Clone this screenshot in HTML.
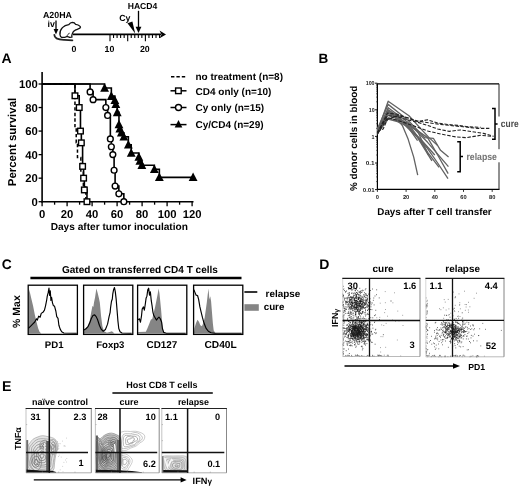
<!DOCTYPE html>
<html><head><meta charset="utf-8"><title>Figure</title>
<style>
html,body{margin:0;padding:0;background:#fff;}
body{width:520px;height:488px;overflow:hidden;}
svg{display:block;font-family:"Liberation Sans",sans-serif;will-change:transform;transform:translateZ(0);text-rendering:geometricPrecision;}
</style></head><body>
<svg width="520" height="488" viewBox="0 0 520 488">
<rect width="520" height="488" fill="#fff"/>
<text x="43" y="17.8" font-size="8.8" text-anchor="start" fill="#000" font-weight="bold" >A20HA</text>
<text x="47.6" y="26.6" font-size="8.8" text-anchor="start" fill="#000" font-weight="bold" >iv</text>
<line x1="56" y1="20.5" x2="56" y2="31" stroke="#000" stroke-width="1.3" />
<polygon points="53.6,29 58.4,29 56,34.5" fill="#000"/>
<path d="M54.3,34.8 C54.4,38.4 58.8,39.9 64.6,39.8 L72.4,40.3" fill="none" stroke="#222" stroke-width="1.8" stroke-linecap="round"/>
<path d="M60,34.8 C59.6,32.5 60.8,29.4 62.4,27.6 C64.2,25.8 66.6,24.9 68.8,24.6 C69.6,23.4 71,22.4 72.4,22.3 C73.8,22.3 75,23.2 75.5,24.3 C76.6,24.4 78,24.8 79,25.5 C79.8,26 80.6,26.6 80.5,27.2 C80.4,28 79.2,28.7 77.7,29.2 C76.6,29.6 75.8,29.8 75.3,30.1 C74.4,30.6 73.6,31.3 73.2,31.9 C72.6,32.8 72.2,34 71.8,35.4 L71.9,37.2 L69.6,37.4 C68.8,36.9 67.8,36.6 66.8,36.7 C65.8,36.8 65,37.3 64.2,37.4 L61.6,37.3 C60.6,36.9 60.1,36 60,34.8 Z" fill="#fff" stroke="#111" stroke-width="1.3" stroke-linejoin="round"/>
<path d="M66.8,36.7 C67.2,35 68.4,33.6 69.6,33.2" fill="none" stroke="#111" stroke-width="1"/>
<line x1="73" y1="34.4" x2="161" y2="34.4" stroke="#000" stroke-width="1.7" />
<polygon points="159.5,30.6 166,34.4 159.5,38.2 161.5,34.4" fill="#000"/>
<line x1="110.0" y1="34.4" x2="110.0" y2="41.2" stroke="#000" stroke-width="1.1" />
<line x1="113.54" y1="34.4" x2="113.54" y2="38" stroke="#000" stroke-width="1.1" />
<line x1="117.08" y1="34.4" x2="117.08" y2="38" stroke="#000" stroke-width="1.1" />
<line x1="120.62" y1="34.4" x2="120.62" y2="38" stroke="#000" stroke-width="1.1" />
<line x1="124.16" y1="34.4" x2="124.16" y2="38" stroke="#000" stroke-width="1.1" />
<line x1="127.7" y1="34.4" x2="127.7" y2="41.2" stroke="#000" stroke-width="1.1" />
<line x1="131.24" y1="34.4" x2="131.24" y2="38" stroke="#000" stroke-width="1.1" />
<line x1="134.78" y1="34.4" x2="134.78" y2="38" stroke="#000" stroke-width="1.1" />
<line x1="138.32" y1="34.4" x2="138.32" y2="38" stroke="#000" stroke-width="1.1" />
<line x1="141.86" y1="34.4" x2="141.86" y2="38" stroke="#000" stroke-width="1.1" />
<line x1="145.4" y1="34.4" x2="145.4" y2="41.2" stroke="#000" stroke-width="1.1" />
<line x1="148.94" y1="34.4" x2="148.94" y2="38" stroke="#000" stroke-width="1.1" />
<line x1="152.48" y1="34.4" x2="152.48" y2="38" stroke="#000" stroke-width="1.1" />
<line x1="156.02" y1="34.4" x2="156.02" y2="38" stroke="#000" stroke-width="1.1" />
<line x1="159.56" y1="34.4" x2="159.56" y2="38" stroke="#000" stroke-width="1.1" />
<text x="74.0" y="52" font-size="8.8" text-anchor="middle" fill="#000" font-weight="bold" >0</text>
<text x="109.4" y="52" font-size="8.8" text-anchor="middle" fill="#000" font-weight="bold" >10</text>
<text x="144.8" y="52" font-size="8.8" text-anchor="middle" fill="#000" font-weight="bold" >20</text>
<text x="127.7" y="8.6" font-size="8.6" text-anchor="start" fill="#000" font-weight="bold" >HACD4</text>
<line x1="138.5" y1="10.8" x2="138.5" y2="29" stroke="#000" stroke-width="1.3" />
<polygon points="135.6,26.8 141.4,26.8 138.5,33" fill="#000"/>
<text x="119.2" y="20.8" font-size="8.8" text-anchor="start" fill="#000" font-weight="bold" >Cy</text>
<polygon points="127.5,23.2 132.4,21.4 135.2,33.4" fill="#000"/>
<text x="1.5" y="63.1" font-size="14" text-anchor="start" fill="#000" font-weight="bold" >A</text>
<line x1="42.1" y1="72" x2="42.1" y2="202.5" stroke="#000" stroke-width="1.6" />
<line x1="41.300000000000004" y1="201.7" x2="193.5" y2="201.7" stroke="#000" stroke-width="1.6" />
<line x1="38.6" y1="201.7" x2="42.1" y2="201.7" stroke="#000" stroke-width="1.3" />
<text x="37.8" y="205.7" font-size="11.3" text-anchor="end" fill="#000" font-weight="bold" >0</text>
<line x1="38.6" y1="178.16" x2="42.1" y2="178.16" stroke="#000" stroke-width="1.3" />
<text x="37.8" y="182.16" font-size="11.3" text-anchor="end" fill="#000" font-weight="bold" >20</text>
<line x1="38.6" y1="154.62" x2="42.1" y2="154.62" stroke="#000" stroke-width="1.3" />
<text x="37.8" y="158.62" font-size="11.3" text-anchor="end" fill="#000" font-weight="bold" >40</text>
<line x1="38.6" y1="131.08" x2="42.1" y2="131.08" stroke="#000" stroke-width="1.3" />
<text x="37.8" y="135.08" font-size="11.3" text-anchor="end" fill="#000" font-weight="bold" >60</text>
<line x1="38.6" y1="107.54" x2="42.1" y2="107.54" stroke="#000" stroke-width="1.3" />
<text x="37.8" y="111.54" font-size="11.3" text-anchor="end" fill="#000" font-weight="bold" >80</text>
<line x1="38.6" y1="84.0" x2="42.1" y2="84.0" stroke="#000" stroke-width="1.3" />
<text x="37.8" y="88.0" font-size="11.3" text-anchor="end" fill="#000" font-weight="bold" >100</text>
<line x1="42.1" y1="201.7" x2="42.1" y2="206.2" stroke="#000" stroke-width="1.3" />
<text x="42.1" y="218.2" font-size="11.3" text-anchor="middle" fill="#000" font-weight="bold" >0</text>
<line x1="54.6" y1="201.7" x2="54.6" y2="204.7" stroke="#000" stroke-width="1.3" />
<line x1="67.1" y1="201.7" x2="67.1" y2="206.2" stroke="#000" stroke-width="1.3" />
<text x="67.1" y="218.2" font-size="11.3" text-anchor="middle" fill="#000" font-weight="bold" >20</text>
<line x1="79.6" y1="201.7" x2="79.6" y2="204.7" stroke="#000" stroke-width="1.3" />
<line x1="92.1" y1="201.7" x2="92.1" y2="206.2" stroke="#000" stroke-width="1.3" />
<text x="92.1" y="218.2" font-size="11.3" text-anchor="middle" fill="#000" font-weight="bold" >40</text>
<line x1="104.6" y1="201.7" x2="104.6" y2="204.7" stroke="#000" stroke-width="1.3" />
<line x1="117.1" y1="201.7" x2="117.1" y2="206.2" stroke="#000" stroke-width="1.3" />
<text x="117.1" y="218.2" font-size="11.3" text-anchor="middle" fill="#000" font-weight="bold" >60</text>
<line x1="129.6" y1="201.7" x2="129.6" y2="204.7" stroke="#000" stroke-width="1.3" />
<line x1="142.1" y1="201.7" x2="142.1" y2="206.2" stroke="#000" stroke-width="1.3" />
<text x="142.1" y="218.2" font-size="11.3" text-anchor="middle" fill="#000" font-weight="bold" >80</text>
<line x1="154.6" y1="201.7" x2="154.6" y2="204.7" stroke="#000" stroke-width="1.3" />
<line x1="167.1" y1="201.7" x2="167.1" y2="206.2" stroke="#000" stroke-width="1.3" />
<text x="167.1" y="218.2" font-size="11.3" text-anchor="middle" fill="#000" font-weight="bold" >100</text>
<line x1="179.6" y1="201.7" x2="179.6" y2="204.7" stroke="#000" stroke-width="1.3" />
<line x1="192.1" y1="201.7" x2="192.1" y2="206.2" stroke="#000" stroke-width="1.3" />
<text x="192.1" y="218.2" font-size="11.3" text-anchor="middle" fill="#000" font-weight="bold" >120</text>
<text transform="translate(15.6,142) rotate(-90)" font-size="11.45" text-anchor="middle" fill="#000" font-weight="bold">Percent survival</text>
<text x="119.3" y="230" font-size="10.14" text-anchor="middle" fill="#000" font-weight="bold" >Days after tumor inoculation</text>
<path d="M42.1,84.0 L74.97,84.0 L74.97,128.14 L76.22,128.14 L76.22,142.85 L77.47,142.85 L77.47,157.56 L80.85,157.56 L80.85,172.27 L83.35,172.27 L83.35,186.99 L85.85,186.99 L85.85,201.7" fill="none" stroke="#000" stroke-width="1.5" stroke-dasharray="3.4,2.2"/>
<path d="M42.1,84.0 L74.97,84.0 L74.97,95.77 L79.22,95.77 L79.22,107.54 L80.47,107.54 L80.47,131.08 L81.35,131.08 L81.35,142.85 L82.6,142.85 L82.6,166.39 L83.6,166.39 L83.6,178.16 L84.35,178.16 L84.35,189.93 L86.97,189.93 L86.97,201.7" fill="none" stroke="#000" stroke-width="1.6"/>
<rect x="72.17" y="92.97" width="5.6" height="5.6" fill="#fff" stroke="#000" stroke-width="1.4"/>
<rect x="76.42" y="104.74" width="5.6" height="5.6" fill="#fff" stroke="#000" stroke-width="1.4"/>
<rect x="77.67" y="128.28" width="5.6" height="5.6" fill="#fff" stroke="#000" stroke-width="1.4"/>
<rect x="78.55" y="140.05" width="5.6" height="5.6" fill="#fff" stroke="#000" stroke-width="1.4"/>
<rect x="79.80" y="163.59" width="5.6" height="5.6" fill="#fff" stroke="#000" stroke-width="1.4"/>
<rect x="80.80" y="175.36" width="5.6" height="5.6" fill="#fff" stroke="#000" stroke-width="1.4"/>
<rect x="81.55" y="187.13" width="5.6" height="5.6" fill="#fff" stroke="#000" stroke-width="1.4"/>
<rect x="84.17" y="198.90" width="5.6" height="5.6" fill="#fff" stroke="#000" stroke-width="1.4"/>
<path d="M42.1,84.0 L90.1,84.0 L90.1,91.89 L93.1,91.89 L93.1,99.65 L105.85,99.65 L105.85,107.54 L107.6,107.54 L107.6,115.43 L110.35,115.43 L110.35,138.97 L111.35,138.97 L111.35,146.73 L112.85,146.73 L112.85,154.62 L114.1,154.62 L114.1,170.27 L115.1,170.27 L115.1,186.05 L118.85,186.05 L118.85,193.81 L123.85,193.81 L123.85,201.7" fill="none" stroke="#000" stroke-width="1.6"/>
<circle cx="90.1" cy="91.89" r="2.9" fill="#fff" stroke="#000" stroke-width="1.4"/>
<circle cx="93.1" cy="99.65" r="2.9" fill="#fff" stroke="#000" stroke-width="1.4"/>
<circle cx="105.85" cy="107.54" r="2.9" fill="#fff" stroke="#000" stroke-width="1.4"/>
<circle cx="107.6" cy="115.43" r="2.9" fill="#fff" stroke="#000" stroke-width="1.4"/>
<circle cx="110.35" cy="138.97" r="2.9" fill="#fff" stroke="#000" stroke-width="1.4"/>
<circle cx="111.35" cy="146.73" r="2.9" fill="#fff" stroke="#000" stroke-width="1.4"/>
<circle cx="112.85" cy="154.62" r="2.9" fill="#fff" stroke="#000" stroke-width="1.4"/>
<circle cx="114.1" cy="170.27" r="2.9" fill="#fff" stroke="#000" stroke-width="1.4"/>
<circle cx="115.1" cy="186.05" r="2.9" fill="#fff" stroke="#000" stroke-width="1.4"/>
<circle cx="118.85" cy="193.81" r="2.9" fill="#fff" stroke="#000" stroke-width="1.4"/>
<circle cx="123.85" cy="201.7" r="2.9" fill="#fff" stroke="#000" stroke-width="1.4"/>
<path d="M42.1,84.0 L104.6,84.0 L104.6,88.06 L111.35,88.06 L111.35,96.17 L114.85,96.17 L114.85,100.24 L115.85,100.24 L115.85,104.29 L117.22,104.29 L117.22,112.41 L118.97,112.41 L118.97,124.58 L119.85,124.58 L119.85,128.64 L121.35,128.64 L121.35,132.7 L123.85,132.7 L123.85,136.76 L128.35,136.76 L128.35,144.87 L131.22,144.87 L131.22,153.0 L138.85,153.0 L138.85,157.06 L139.85,157.06 L139.85,161.12 L141.85,161.12 L141.85,165.18 L154.35,165.18 L154.35,169.23 L159.35,169.23 L159.35,177.35 L193.1,177.35" fill="none" stroke="#000" stroke-width="1.6"/>
<polygon points="100.20,91.80 109.00,91.80 104.60,83.22" fill="#000"/>
<polygon points="106.95,99.91 115.75,99.91 111.35,91.33" fill="#000"/>
<polygon points="110.45,103.98 119.25,103.98 114.85,95.40" fill="#000"/>
<polygon points="111.45,108.03 120.25,108.03 115.85,99.45" fill="#000"/>
<polygon points="112.82,116.15 121.62,116.15 117.22,107.57" fill="#000"/>
<polygon points="114.57,128.32 123.37,128.32 118.97,119.74" fill="#000"/>
<polygon points="115.45,132.38 124.25,132.38 119.85,123.80" fill="#000"/>
<polygon points="116.95,136.44 125.75,136.44 121.35,127.86" fill="#000"/>
<polygon points="119.45,140.50 128.25,140.50 123.85,131.92" fill="#000"/>
<polygon points="123.95,148.61 132.75,148.61 128.35,140.03" fill="#000"/>
<polygon points="126.82,156.74 135.62,156.74 131.22,148.16" fill="#000"/>
<polygon points="134.45,160.80 143.25,160.80 138.85,152.22" fill="#000"/>
<polygon points="135.45,164.86 144.25,164.86 139.85,156.28" fill="#000"/>
<polygon points="137.45,168.92 146.25,168.92 141.85,160.34" fill="#000"/>
<polygon points="149.95,172.97 158.75,172.97 154.35,164.39" fill="#000"/>
<polygon points="154.95,181.09 163.75,181.09 159.35,172.51" fill="#000"/>
<polygon points="188.70,181.09 197.50,181.09 193.10,172.51" fill="#000"/>
<line x1="171" y1="76.8" x2="186" y2="76.8" stroke="#000" stroke-width="1.4" stroke-dasharray="3.4,2"/>
<text x="195.5" y="79.6" font-size="10" text-anchor="start" fill="#000" font-weight="bold" >no treatment (n=8)</text>
<line x1="170.5" y1="90.8" x2="186.5" y2="90.8" stroke="#000" stroke-width="1.5" />
<rect x="175.6" y="88" width="5.6" height="5.6" fill="#fff" stroke="#000" stroke-width="1.4"/>
<text x="195.5" y="94.6" font-size="10" text-anchor="start" fill="#000" font-weight="bold" >CD4 only (n=10)</text>
<line x1="170.5" y1="107.5" x2="186.5" y2="107.5" stroke="#000" stroke-width="1.5" />
<circle cx="178.5" cy="107.5" r="3" fill="#fff" stroke="#000" stroke-width="1.4"/>
<text x="195.5" y="111.2" font-size="10" text-anchor="start" fill="#000" font-weight="bold" >Cy only (n=15)</text>
<line x1="170.5" y1="124.6" x2="186.5" y2="124.6" stroke="#000" stroke-width="1.5" />
<polygon points="174.70,127.43 182.30,127.43 178.50,120.02" fill="#000"/>
<text x="195.5" y="127.7" font-size="10" text-anchor="start" fill="#000" font-weight="bold" >Cy/CD4 (n=29)</text>
<text x="318.6" y="62.7" font-size="13.5" text-anchor="start" fill="#000" font-weight="bold" >B</text>
<path d="M377.4,189.4 L377.4,83.8 L499,83.8" fill="none" stroke="#000" stroke-width="1.2"/>
<line x1="377.4" y1="189.4" x2="499.5" y2="189.4" stroke="#000" stroke-width="1.2" />
<line x1="499" y1="83.8" x2="499" y2="116.5" stroke="#222" stroke-width="1.0" />
<line x1="499" y1="128" x2="499" y2="149.2" stroke="#222" stroke-width="1.0" />
<line x1="499" y1="162.3" x2="499" y2="189.4" stroke="#222" stroke-width="1.0" />
<text x="374.59999999999997" y="85.3" font-size="5.7" text-anchor="end" fill="#222" font-weight="bold" textLength="8.9" lengthAdjust="spacingAndGlyphs">100</text>
<line x1="375.0" y1="83.2" x2="377.4" y2="83.2" stroke="#000" stroke-width="0.9" />
<line x1="376.0" y1="101.79" x2="377.4" y2="101.79" stroke="#222" stroke-width="0.6" />
<line x1="376.0" y1="97.11" x2="377.4" y2="97.11" stroke="#222" stroke-width="0.6" />
<line x1="376.0" y1="93.79" x2="377.4" y2="93.79" stroke="#222" stroke-width="0.6" />
<line x1="376.0" y1="91.21" x2="377.4" y2="91.21" stroke="#222" stroke-width="0.6" />
<line x1="376.0" y1="89.1" x2="377.4" y2="89.1" stroke="#222" stroke-width="0.6" />
<line x1="376.0" y1="87.32" x2="377.4" y2="87.32" stroke="#222" stroke-width="0.6" />
<line x1="376.0" y1="85.78" x2="377.4" y2="85.78" stroke="#222" stroke-width="0.6" />
<line x1="376.0" y1="84.42" x2="377.4" y2="84.42" stroke="#222" stroke-width="0.6" />
<text x="374.59999999999997" y="111.9" font-size="5.7" text-anchor="end" fill="#222" font-weight="bold" textLength="5.9" lengthAdjust="spacingAndGlyphs">10</text>
<line x1="375.0" y1="109.8" x2="377.4" y2="109.8" stroke="#000" stroke-width="0.9" />
<line x1="376.0" y1="128.39" x2="377.4" y2="128.39" stroke="#222" stroke-width="0.6" />
<line x1="376.0" y1="123.71" x2="377.4" y2="123.71" stroke="#222" stroke-width="0.6" />
<line x1="376.0" y1="120.39" x2="377.4" y2="120.39" stroke="#222" stroke-width="0.6" />
<line x1="376.0" y1="117.81" x2="377.4" y2="117.81" stroke="#222" stroke-width="0.6" />
<line x1="376.0" y1="115.7" x2="377.4" y2="115.7" stroke="#222" stroke-width="0.6" />
<line x1="376.0" y1="113.92" x2="377.4" y2="113.92" stroke="#222" stroke-width="0.6" />
<line x1="376.0" y1="112.38" x2="377.4" y2="112.38" stroke="#222" stroke-width="0.6" />
<line x1="376.0" y1="111.02" x2="377.4" y2="111.02" stroke="#222" stroke-width="0.6" />
<text x="374.59999999999997" y="138.5" font-size="5.7" text-anchor="end" fill="#222" font-weight="bold" textLength="3.0" lengthAdjust="spacingAndGlyphs">1</text>
<line x1="375.0" y1="136.4" x2="377.4" y2="136.4" stroke="#000" stroke-width="0.9" />
<line x1="376.0" y1="154.99" x2="377.4" y2="154.99" stroke="#222" stroke-width="0.6" />
<line x1="376.0" y1="150.31" x2="377.4" y2="150.31" stroke="#222" stroke-width="0.6" />
<line x1="376.0" y1="146.99" x2="377.4" y2="146.99" stroke="#222" stroke-width="0.6" />
<line x1="376.0" y1="144.41" x2="377.4" y2="144.41" stroke="#222" stroke-width="0.6" />
<line x1="376.0" y1="142.3" x2="377.4" y2="142.3" stroke="#222" stroke-width="0.6" />
<line x1="376.0" y1="140.52" x2="377.4" y2="140.52" stroke="#222" stroke-width="0.6" />
<line x1="376.0" y1="138.98" x2="377.4" y2="138.98" stroke="#222" stroke-width="0.6" />
<line x1="376.0" y1="137.62" x2="377.4" y2="137.62" stroke="#222" stroke-width="0.6" />
<text x="374.59999999999997" y="165.1" font-size="5.7" text-anchor="end" fill="#222" font-weight="bold" textLength="8.9" lengthAdjust="spacingAndGlyphs">0.1</text>
<line x1="375.0" y1="163.0" x2="377.4" y2="163.0" stroke="#000" stroke-width="0.9" />
<line x1="376.0" y1="181.59" x2="377.4" y2="181.59" stroke="#222" stroke-width="0.6" />
<line x1="376.0" y1="176.91" x2="377.4" y2="176.91" stroke="#222" stroke-width="0.6" />
<line x1="376.0" y1="173.59" x2="377.4" y2="173.59" stroke="#222" stroke-width="0.6" />
<line x1="376.0" y1="171.01" x2="377.4" y2="171.01" stroke="#222" stroke-width="0.6" />
<line x1="376.0" y1="168.9" x2="377.4" y2="168.9" stroke="#222" stroke-width="0.6" />
<line x1="376.0" y1="167.12" x2="377.4" y2="167.12" stroke="#222" stroke-width="0.6" />
<line x1="376.0" y1="165.58" x2="377.4" y2="165.58" stroke="#222" stroke-width="0.6" />
<line x1="376.0" y1="164.22" x2="377.4" y2="164.22" stroke="#222" stroke-width="0.6" />
<text x="374.59999999999997" y="191.7" font-size="5.7" text-anchor="end" fill="#222" font-weight="bold" textLength="11.8" lengthAdjust="spacingAndGlyphs">0.01</text>
<line x1="375.0" y1="189.6" x2="377.4" y2="189.6" stroke="#000" stroke-width="0.9" />
<line x1="377.4" y1="189.4" x2="377.4" y2="191.9" stroke="#000" stroke-width="0.8" />
<text x="377.4" y="198.5" font-size="5.7" text-anchor="middle" fill="#222" font-weight="bold" >0</text>
<line x1="406.1" y1="189.4" x2="406.1" y2="191.9" stroke="#000" stroke-width="0.8" />
<text x="406.1" y="198.5" font-size="5.7" text-anchor="middle" fill="#222" font-weight="bold" >20</text>
<line x1="434.8" y1="189.4" x2="434.8" y2="191.9" stroke="#000" stroke-width="0.8" />
<text x="434.8" y="198.5" font-size="5.7" text-anchor="middle" fill="#222" font-weight="bold" >40</text>
<line x1="463.5" y1="189.4" x2="463.5" y2="191.9" stroke="#000" stroke-width="0.8" />
<text x="463.5" y="198.5" font-size="5.7" text-anchor="middle" fill="#222" font-weight="bold" >60</text>
<line x1="492.2" y1="189.4" x2="492.2" y2="191.9" stroke="#000" stroke-width="0.8" />
<text x="492.2" y="198.5" font-size="5.7" text-anchor="middle" fill="#222" font-weight="bold" >80</text>
<text transform="translate(356.6,138.3) rotate(-90)" font-size="9.9" text-anchor="middle" fill="#000" font-weight="bold">% donor cells in blood</text>
<text x="434.5" y="214.8" font-size="9.8" text-anchor="middle" fill="#000" font-weight="bold" >Days after T cell transfer</text>
<path d="M377.4,131.72 L388.16,101.23 L408.97,115.7 L420.45,128.39 L429.06,137.62 L437.67,145.62" fill="none" stroke="#626262" stroke-width="1.3" stroke-linejoin="round"/>
<path d="M377.4,128.99 L388.16,104.37 L407.53,119.82 L424.75,137.62 L433.37,138.28 L440.54,150.31 L448.58,157.08" fill="none" stroke="#626262" stroke-width="1.3" stroke-linejoin="round"/>
<path d="M377.4,133.37 L388.16,111.02 L397.49,119.82 L402.37,125.59 L408.11,139.12 L413.71,157.08 L417.72,175.13" fill="none" stroke="#626262" stroke-width="1.3" stroke-linejoin="round"/>
<path d="M377.4,132.51 L388.16,107.69 L407.53,121.93 L427.62,142.3 L448.43,166.64" fill="none" stroke="#626262" stroke-width="1.3" stroke-linejoin="round"/>
<path d="M377.4,130.97 L388.16,110.39 L407.53,123.71 L427.62,137.62 L437.67,154.99 L448.15,173.59" fill="none" stroke="#626262" stroke-width="1.3" stroke-linejoin="round"/>
<path d="M377.4,128.39 L388.16,113.12 L407.53,125.36 L427.62,148.53 L437.67,163.0 L448.0,178.56" fill="none" stroke="#626262" stroke-width="1.3" stroke-linejoin="round"/>
<path d="M377.4,133.37 L388.16,114.78 L397.49,119.02 L417.58,130.97 L428.34,154.99" fill="none" stroke="#626262" stroke-width="1.3" stroke-linejoin="round"/>
<path d="M377.4,130.27 L388.16,117.81 L407.53,122.96 L417.58,136.4 L427.62,152.41 L439.1,167.29" fill="none" stroke="#626262" stroke-width="1.3" stroke-linejoin="round"/>
<path d="M377.4,134.29 L388.16,112.38 L397.49,117.81 L417.58,137.62 L431.93,160.89" fill="none" stroke="#626262" stroke-width="1.3" stroke-linejoin="round"/>
<path d="M377.4,132.51 L388.16,109.8 L397.49,115.7 L407.53,127.29 L420.45,138.98 L434.8,154.99" fill="none" stroke="#626262" stroke-width="1.3" stroke-linejoin="round"/>
<path d="M377.4,133.37 L388.16,119.02 L397.49,121.6 L407.53,126.29 L417.58,140.52" fill="none" stroke="#626262" stroke-width="1.3" stroke-linejoin="round"/>
<path d="M377.4,133.37 L387.44,113.12 L397.49,114.26 L407.53,117.81 L417.58,121.6 L427.62,119.82 L437.67,122.96 L447.71,124.51 L457.76,125.36 L467.8,126.78 L480.72,127.29" fill="none" stroke="#222" stroke-width="1.1" stroke-dasharray="3.5,1.6" stroke-linejoin="round"/>
<path d="M377.4,132.51 L387.44,115.7 L397.49,116.71 L407.53,119.82 L417.58,122.26 L427.62,125.36 L437.67,128.99 L449.15,131.34 L460.63,129.94 L472.11,131.72 L483.59,133.37 L493.63,136.4" fill="none" stroke="#222" stroke-width="1.1" stroke-dasharray="3.5,1.6" stroke-linejoin="round"/>
<path d="M377.4,134.29 L387.44,117.81 L397.49,120.39 L407.53,123.71 L417.58,127.29 L427.62,130.97 L441.97,134.29 L456.32,136.99 L466.37,137.62 L480.72,135.3 L492.2,136.4" fill="none" stroke="#222" stroke-width="1.1" stroke-dasharray="3.5,1.6" stroke-linejoin="round"/>
<path d="M377.4,131.72 L383.14,128.99 L387.44,119.28 L397.49,115.7 L407.53,117.81 L417.58,120.98 L434.8,123.71 L449.15,125.36 L463.5,126.78 L477.85,128.39 L489.33,128.39" fill="none" stroke="#222" stroke-width="1.1" stroke-dasharray="3.5,1.6" stroke-linejoin="round"/>
<path d="M492,108.6 L495,108.6 L495,139.2 L492,139.2 M495,123.9 L497.6,123.9" fill="none" stroke="#000" stroke-width="1.5"/>
<text x="500.8" y="127.4" font-size="10" text-anchor="start" fill="#4a4a4a" font-weight="bold" textLength="17.8" lengthAdjust="spacingAndGlyphs">cure</text>
<path d="M457.2,141.8 L460.2,141.8 L460.2,171.8 L457.2,171.8 M460.2,156.6 L463,156.6" fill="none" stroke="#000" stroke-width="1.5"/>
<text x="466.4" y="160" font-size="9.8" text-anchor="start" fill="#737373" font-weight="bold" textLength="30.6" lengthAdjust="spacingAndGlyphs">relapse</text>
<text x="1.8" y="269" font-size="13.8" text-anchor="start" fill="#000" font-weight="bold" >C</text>
<text x="62" y="273.3" font-size="10.03" text-anchor="start" fill="#000" font-weight="bold" >Gated on transferred CD4 T cells</text>
<line x1="30.4" y1="278" x2="241.5" y2="278" stroke="#000" stroke-width="2.3" />
<path d="M28.31,333.42 L28.74,288.62 L30.03,292.92 L31.54,299.38 L33.05,305.85 L34.77,314.46 L36.49,322.00 L38.22,328.46 L39.51,331.69 L41.23,333.42 Z" fill="#858585" stroke="none"/>
<path d="M28.31,328.46 L30.46,326.31 L32.62,324.15 L34.77,322.00 L36.49,318.77 L37.35,320.06 L38.65,316.18 L40.15,317.26 L41.23,313.38 L42.95,312.31 L44.46,310.15 L45.54,305.85 L46.62,300.46 L47.26,296.15 L48.12,292.92 L48.98,288.18 L49.63,295.51 L50.28,290.77 L50.92,300.46 L51.57,297.23 L52.43,302.62 L53.29,305.42 L54.58,306.28 L55.88,311.23 L56.74,316.62 L58.03,318.34 L58.89,325.23 L60.18,329.11 L61.69,331.69 L63.85,332.98 L76.77,333.20" fill="none" stroke="#000" stroke-width="1.15" stroke-linejoin="round"/>
<rect x="28.2" y="285.2" width="49.2" height="49.2" fill="none" stroke="#000" stroke-width="1.3"/>
<path d="M83.88,333.42 L84.31,329.54 L87.54,326.31 L89.69,320.92 L91.20,312.31 L92.49,305.85 L93.35,306.92 L94.00,302.62 L95.08,297.23 L96.37,288.62 L97.66,292.92 L98.95,298.31 L99.82,302.62 L101.11,316.62 L102.40,326.31 L104.12,331.26 L106.92,332.77 L109.72,332.12 L111.88,331.26 L113.38,332.55 L114.46,333.42 Z" fill="#858585" stroke="none"/>
<path d="M83.88,329.97 L86.46,328.46 L88.18,326.31 L89.69,323.08 L91.20,318.77 L92.92,315.54 L94.65,314.89 L96.15,316.62 L97.66,319.85 L99.38,325.23 L101.11,329.11 L103.26,331.26 L105.42,329.54 L107.57,324.15 L109.08,316.62 L110.15,312.31 L110.58,307.57 L111.45,301.54 L112.31,298.95 L112.74,294.22 L113.60,289.69 L114.46,287.54 L115.32,291.85 L116.18,299.38 L117.05,310.15 L117.91,320.92 L118.77,328.46 L120.06,331.69 L122.00,332.98 L131.69,333.20" fill="none" stroke="#000" stroke-width="1.15" stroke-linejoin="round"/>
<rect x="83.6" y="285.2" width="49.2" height="49.2" fill="none" stroke="#000" stroke-width="1.3"/>
<path d="M137.88,333.42 L138.31,332.12 L145.85,331.69 L147.35,328.46 L149.08,324.15 L150.80,319.85 L152.31,318.77 L153.82,312.31 L155.11,306.92 L156.40,300.46 L157.69,294.00 L158.55,288.62 L159.42,292.92 L160.28,301.54 L161.14,310.15 L162.00,320.92 L162.86,329.54 L164.15,332.98 L165.23,333.42 Z" fill="#858585" stroke="none"/>
<path d="M137.88,319.85 L139.38,318.77 L140.46,322.22 L141.54,315.54 L142.18,309.08 L143.48,306.92 L144.34,310.15 L145.20,304.77 L146.06,298.31 L146.92,296.15 L147.78,289.69 L148.65,288.18 L149.51,295.08 L150.37,291.85 L151.23,300.46 L152.09,305.85 L152.95,312.31 L153.82,315.54 L155.11,317.69 L156.40,320.06 L157.69,318.34 L158.98,317.05 L160.28,318.77 L161.57,322.00 L162.43,328.46 L163.72,332.34 L166.31,333.20 L185.69,333.20" fill="none" stroke="#000" stroke-width="1.15" stroke-linejoin="round"/>
<rect x="137.6" y="285.2" width="49.2" height="49.2" fill="none" stroke="#000" stroke-width="1.3"/>
<path d="M193.88,333.42 L194.31,328.46 L196.03,323.08 L197.54,319.85 L199.05,322.00 L200.34,325.23 L201.85,326.31 L203.35,323.08 L204.65,317.69 L205.72,310.15 L206.80,302.62 L207.66,295.08 L208.52,288.62 L209.38,299.38 L210.25,296.15 L211.11,301.54 L211.97,312.31 L212.83,323.08 L213.69,330.62 L215.42,332.98 L216.92,333.42 Z" fill="#858585" stroke="none"/>
<path d="M193.88,289.69 L194.74,291.85 L196.03,295.08 L197.54,295.51 L198.62,299.38 L199.91,306.92 L201.20,312.31 L202.49,317.69 L204.00,323.08 L206.15,328.46 L208.31,331.26 L211.11,332.77 L214.77,333.20 L241.69,333.20" fill="none" stroke="#000" stroke-width="1.15" stroke-linejoin="round"/>
<rect x="193.6" y="285.2" width="49.2" height="49.2" fill="none" stroke="#000" stroke-width="1.3"/>
<text x="54.2" y="348" font-size="9.6" text-anchor="middle" fill="#000" font-weight="bold" >PD1</text>
<text x="110.3" y="348.2" font-size="9.6" text-anchor="middle" fill="#000" font-weight="bold" >Foxp3</text>
<text x="161.9" y="348.2" font-size="9.9" text-anchor="middle" fill="#000" font-weight="bold" >CD127</text>
<text x="220.6" y="348.2" font-size="10.2" text-anchor="middle" fill="#000" font-weight="bold" >CD40L</text>
<text transform="translate(20.3,311.6) rotate(-90)" font-size="10.5" text-anchor="middle" fill="#000" font-weight="bold">% Max</text>
<line x1="244.4" y1="292" x2="257.3" y2="292" stroke="#000" stroke-width="1.6" />
<rect x="244.4" y="304.2" width="14.4" height="6.6" fill="#858585"/>
<text x="265.6" y="296.6" font-size="9.9" text-anchor="start" fill="#000" font-weight="bold" >relapse</text>
<text x="263.7" y="309.9" font-size="9.8" text-anchor="start" fill="#000" font-weight="bold" >cure</text>
<text x="319.2" y="268.7" font-size="14" text-anchor="start" fill="#000" font-weight="bold" >D</text>
<text x="372.5" y="272" font-size="10" text-anchor="start" fill="#000" font-weight="bold" >cure</text>
<text x="445.3" y="272" font-size="9.9" text-anchor="start" fill="#000" font-weight="bold" >relapse</text>
<path d="M354.8,306.0h0.01M355.0,300.4h0.01M349.9,301.0h0.01M364.6,305.4h0.01M364.1,304.2h0.01M359.4,303.8h0.01M344.6,308.3h0.01M360.2,305.9h0.01M344.4,290.6h0.01M350.2,299.3h0.01M358.8,302.2h0.01M360.4,298.1h0.01M358.8,305.2h0.01M351.8,314.2h0.01M360.6,310.6h0.01M352.1,297.5h0.01M354.1,301.8h0.01M361.2,304.2h0.01M353.4,296.0h0.01M352.9,310.8h0.01M350.8,304.2h0.01M359.7,292.4h0.01M356.9,311.4h0.01M355.8,296.9h0.01M360.2,302.1h0.01M346.1,308.1h0.01M361.4,308.9h0.01M367.0,305.0h0.01M357.5,293.7h0.01M361.0,298.3h0.01M353.3,293.9h0.01M349.6,298.9h0.01M365.9,288.7h0.01M346.1,304.1h0.01M367.0,306.4h0.01M359.2,297.5h0.01M348.5,309.1h0.01M364.5,303.6h0.01M358.4,305.5h0.01M368.1,306.7h0.01M360.3,306.2h0.01M345.3,311.2h0.01M363.5,306.1h0.01M362.7,290.2h0.01M355.3,309.4h0.01M347.2,313.4h0.01M360.6,301.5h0.01M358.9,306.9h0.01M357.5,310.3h0.01M351.8,299.7h0.01M364.1,302.7h0.01M350.3,308.9h0.01M367.2,299.5h0.01M346.7,301.6h0.01M355.5,300.5h0.01M366.7,295.5h0.01M365.7,293.9h0.01M350.9,306.8h0.01M364.7,308.3h0.01M359.1,303.5h0.01M357.7,306.4h0.01M355.3,304.4h0.01M360.7,302.5h0.01M362.1,306.3h0.01M371.1,304.7h0.01M353.5,300.0h0.01M356.5,308.8h0.01M354.2,305.1h0.01M348.5,304.2h0.01M359.5,304.1h0.01M353.5,307.0h0.01M358.6,299.0h0.01M374.1,304.9h0.01M352.6,301.8h0.01M355.0,302.1h0.01M363.9,294.6h0.01M356.1,309.0h0.01M362.8,312.6h0.01M344.3,300.1h0.01M354.1,306.7h0.01M364.4,292.7h0.01M361.5,292.4h0.01M357.9,310.6h0.01M355.5,303.8h0.01M362.3,303.5h0.01M356.0,312.9h0.01M364.1,300.5h0.01M376.4,294.7h0.01M363.2,300.7h0.01M357.6,307.3h0.01M358.2,306.8h0.01M345.6,292.2h0.01M361.0,296.0h0.01M349.2,292.5h0.01M365.7,307.6h0.01M367.2,296.1h0.01M356.6,294.7h0.01M362.1,313.3h0.01M350.2,313.1h0.01M363.7,301.3h0.01M355.9,298.4h0.01M359.5,305.3h0.01M367.4,295.6h0.01M364.8,312.6h0.01M367.1,301.3h0.01M351.2,309.4h0.01M357.4,303.3h0.01M366.9,300.7h0.01M343.3,308.1h0.01M358.9,298.3h0.01M356.5,308.2h0.01M357.2,311.5h0.01M356.2,309.6h0.01M367.3,313.4h0.01M351.8,308.5h0.01M343.1,295.1h0.01M347.7,302.4h0.01M355.2,302.3h0.01M352.3,304.1h0.01M369.5,302.8h0.01M360.4,309.3h0.01M355.2,293.9h0.01M352.6,309.8h0.01M344.7,298.4h0.01M363.9,307.9h0.01M356.7,308.0h0.01M357.8,294.5h0.01M345.3,298.2h0.01M363.2,298.7h0.01M350.1,297.3h0.01M345.6,301.7h0.01M348.1,305.0h0.01M352.0,289.3h0.01M361.8,300.6h0.01M358.7,299.4h0.01M362.2,307.6h0.01M361.4,304.7h0.01M366.2,307.0h0.01M359.8,288.3h0.01M363.1,311.4h0.01M354.5,299.3h0.01M370.6,290.5h0.01M360.0,319.0h0.01M349.9,307.2h0.01M370.2,301.7h0.01M360.6,308.6h0.01M350.1,301.9h0.01M358.7,308.1h0.01M356.4,301.2h0.01M349.3,300.1h0.01M363.0,303.2h0.01M350.5,296.8h0.01M375.8,310.3h0.01M361.1,305.8h0.01M368.7,305.4h0.01M356.1,306.1h0.01M358.9,297.7h0.01M366.1,314.8h0.01M346.5,298.0h0.01M358.7,303.7h0.01M353.7,295.9h0.01M371.9,309.6h0.01M348.0,293.4h0.01M368.9,309.2h0.01M369.7,308.0h0.01M350.3,304.3h0.01M356.2,306.1h0.01M351.4,301.7h0.01M359.9,305.1h0.01M361.2,303.9h0.01M354.3,307.9h0.01M357.0,296.9h0.01M352.1,302.5h0.01M355.8,303.6h0.01M356.6,303.7h0.01M355.6,293.9h0.01M359.6,309.7h0.01M359.7,301.2h0.01M359.8,295.9h0.01M342.9,302.9h0.01M349.9,307.5h0.01M349.1,313.2h0.01M353.9,293.2h0.01M351.1,306.0h0.01M360.2,303.7h0.01M367.3,307.3h0.01M356.4,306.6h0.01M368.5,309.1h0.01M364.0,295.1h0.01M355.5,307.5h0.01M354.5,309.8h0.01M360.9,308.7h0.01M355.1,319.8h0.01M365.5,301.0h0.01M357.3,320.1h0.01M354.1,308.4h0.01M363.7,302.5h0.01M348.2,303.8h0.01M359.2,310.2h0.01M362.2,302.7h0.01M362.7,306.2h0.01M358.1,302.9h0.01M354.8,307.2h0.01M349.0,298.2h0.01M356.6,292.5h0.01M353.5,288.8h0.01M351.7,306.4h0.01M360.7,302.1h0.01M354.9,292.9h0.01M369.8,306.0h0.01M364.5,296.5h0.01M355.3,290.1h0.01M362.2,308.9h0.01M342.9,302.1h0.01M361.1,290.5h0.01M343.5,295.3h0.01M352.1,293.0h0.01M356.8,304.2h0.01M361.2,307.3h0.01M367.4,310.4h0.01M347.2,299.1h0.01M349.0,295.2h0.01M356.0,302.5h0.01M360.1,291.7h0.01M347.7,302.3h0.01M355.2,300.4h0.01M356.1,297.3h0.01M361.6,304.9h0.01M356.0,297.9h0.01M349.5,302.8h0.01M345.8,303.9h0.01M357.7,293.1h0.01M354.8,300.4h0.01M359.9,306.7h0.01M356.3,296.7h0.01M355.6,302.1h0.01M361.9,304.5h0.01M351.4,293.3h0.01M353.9,297.5h0.01M348.6,301.7h0.01M353.1,303.2h0.01M360.4,299.7h0.01M373.3,300.3h0.01M364.5,303.3h0.01M351.2,304.2h0.01M360.9,318.4h0.01M358.9,311.2h0.01M362.1,308.9h0.01M360.3,301.4h0.01M360.3,295.2h0.01M365.1,295.6h0.01M358.4,316.9h0.01M355.0,302.6h0.01M365.0,302.7h0.01M350.8,304.3h0.01M360.8,307.3h0.01M351.0,314.4h0.01M368.6,302.6h0.01M358.5,299.6h0.01M366.8,297.7h0.01M361.5,299.2h0.01M351.6,307.4h0.01M366.2,302.4h0.01M351.7,308.0h0.01M356.2,304.6h0.01M367.6,310.2h0.01M352.9,318.0h0.01M356.6,307.8h0.01M351.9,302.2h0.01M344.0,314.6h0.01M366.4,294.2h0.01M345.8,291.5h0.01M365.1,299.4h0.01M356.2,300.4h0.01M355.7,295.1h0.01M356.8,292.7h0.01M356.1,304.6h0.01M360.0,300.9h0.01M350.1,303.6h0.01M353.1,313.1h0.01M362.1,301.7h0.01M353.2,297.7h0.01M349.9,300.1h0.01M358.7,306.0h0.01M360.7,316.8h0.01M351.5,302.6h0.01M376.7,289.8h0.01M352.8,303.7h0.01M357.7,305.3h0.01M354.9,305.0h0.01M357.0,307.7h0.01M343.0,296.5h0.01M356.6,295.5h0.01M349.1,306.8h0.01M351.9,306.8h0.01M362.0,304.6h0.01M360.3,301.8h0.01M346.5,302.3h0.01M359.9,298.9h0.01M355.9,307.6h0.01M350.3,306.9h0.01M370.0,298.7h0.01M357.7,301.5h0.01M367.7,304.7h0.01M363.1,297.8h0.01M356.5,302.4h0.01M343.8,312.3h0.01M363.1,290.6h0.01M362.0,301.6h0.01M359.8,305.0h0.01M345.8,301.1h0.01M367.3,298.6h0.01M349.2,293.3h0.01M347.8,304.8h0.01M368.8,305.4h0.01M358.4,317.7h0.01M352.9,297.9h0.01M360.4,306.2h0.01M349.3,294.5h0.01M358.7,304.2h0.01M347.2,301.1h0.01M352.7,305.6h0.01M355.8,301.9h0.01M354.1,309.7h0.01M366.6,300.0h0.01M362.7,297.3h0.01M357.1,307.6h0.01M367.5,299.9h0.01M356.1,303.8h0.01M345.8,302.6h0.01M351.7,305.0h0.01M348.5,289.1h0.01M356.9,304.3h0.01M352.6,308.5h0.01M354.6,298.4h0.01M360.0,291.8h0.01M351.7,302.4h0.01M362.7,301.4h0.01M358.8,298.0h0.01M358.8,313.8h0.01M351.7,318.6h0.01M352.0,302.6h0.01M357.8,309.5h0.01M361.0,307.9h0.01M361.1,320.4h0.01M358.1,304.2h0.01M363.3,305.0h0.01M368.6,294.1h0.01M362.4,300.0h0.01M363.3,317.1h0.01M356.6,300.8h0.01M353.0,296.8h0.01M352.1,306.8h0.01M356.9,303.0h0.01M355.4,308.7h0.01M360.2,301.5h0.01M361.4,301.5h0.01M348.3,312.4h0.01M360.0,296.0h0.01M364.4,304.8h0.01M345.3,313.4h0.01M359.0,308.6h0.01M358.0,301.5h0.01M345.5,309.1h0.01M356.8,300.6h0.01M359.1,303.0h0.01M361.5,300.0h0.01M353.6,307.1h0.01M366.2,300.0h0.01M355.7,313.3h0.01M354.3,307.5h0.01M368.7,302.8h0.01M365.4,297.7h0.01M358.1,302.0h0.01M357.4,310.2h0.01M373.8,298.0h0.01M352.5,305.9h0.01M349.0,305.9h0.01M360.7,300.6h0.01M360.4,292.0h0.01M362.1,292.0h0.01M351.6,298.7h0.01M353.7,308.3h0.01M357.2,299.8h0.01M360.5,313.3h0.01M356.6,305.0h0.01M365.5,304.3h0.01M347.4,319.4h0.01M372.5,289.0h0.01M356.3,305.3h0.01M363.6,307.0h0.01M354.6,295.3h0.01M357.3,309.5h0.01M348.8,295.5h0.01M356.4,289.3h0.01M354.7,299.5h0.01M359.8,297.7h0.01M350.2,299.8h0.01M356.2,298.0h0.01M356.7,307.6h0.01M365.1,314.1h0.01M351.0,299.6h0.01M351.4,302.3h0.01M360.4,293.3h0.01M359.9,302.3h0.01M343.5,304.5h0.01M365.2,289.8h0.01M362.4,303.9h0.01M360.0,305.5h0.01M366.0,301.0h0.01M362.9,299.7h0.01M361.8,297.0h0.01M355.8,314.3h0.01M359.8,301.4h0.01M348.4,297.1h0.01M358.0,308.9h0.01M359.7,306.1h0.01M356.3,311.7h0.01M353.8,298.8h0.01M363.0,302.9h0.01M354.6,298.6h0.01M354.8,306.7h0.01M359.1,294.3h0.01M359.7,303.7h0.01M349.4,307.8h0.01M354.6,300.2h0.01M362.3,311.5h0.01M351.6,305.5h0.01M350.3,318.2h0.01M353.0,310.6h0.01M351.9,308.0h0.01M353.5,305.9h0.01M355.9,298.0h0.01M372.1,303.0h0.01M344.8,308.3h0.01M344.2,310.3h0.01M352.4,303.5h0.01M365.7,303.3h0.01M346.6,291.0h0.01M365.1,307.5h0.01M350.7,308.3h0.01M360.2,306.9h0.01M363.1,307.5h0.01M357.8,305.8h0.01M375.0,296.0h0.01M354.2,302.7h0.01M363.0,299.5h0.01M364.9,297.1h0.01M358.5,298.9h0.01M357.7,297.8h0.01M345.1,309.9h0.01M358.8,298.7h0.01M358.0,309.2h0.01M349.6,301.7h0.01M360.5,306.1h0.01M365.5,304.7h0.01M356.7,300.6h0.01M358.5,299.6h0.01M349.2,297.5h0.01M352.3,298.3h0.01M348.3,306.8h0.01M347.2,307.0h0.01M349.3,304.9h0.01M366.5,303.9h0.01M351.3,302.8h0.01M357.7,290.7h0.01M352.2,303.6h0.01M353.2,303.0h0.01M361.9,307.7h0.01M363.1,306.5h0.01M354.5,302.4h0.01M354.6,300.4h0.01M355.3,290.8h0.01M354.2,302.3h0.01M349.6,302.3h0.01M360.3,301.4h0.01M355.1,290.1h0.01M363.7,320.5h0.01M360.3,300.4h0.01M362.7,305.0h0.01M356.8,298.5h0.01M361.2,299.2h0.01M358.2,299.0h0.01M358.1,307.6h0.01M350.3,302.3h0.01M361.0,303.5h0.01M365.5,316.0h0.01M350.1,289.4h0.01M362.8,312.9h0.01M363.2,308.0h0.01M352.1,297.6h0.01M363.0,296.3h0.01M343.5,295.7h0.01M374.5,315.6h0.01M351.7,297.5h0.01M358.3,297.4h0.01M366.0,302.0h0.01M348.8,311.4h0.01M352.4,304.0h0.01M356.5,300.4h0.01M358.9,297.8h0.01M347.5,297.3h0.01M356.4,302.9h0.01M360.6,303.3h0.01M350.9,297.7h0.01M360.1,306.1h0.01M355.7,301.3h0.01M363.3,302.6h0.01M361.9,306.5h0.01M358.1,311.4h0.01M352.5,300.1h0.01M350.8,297.1h0.01M367.8,314.5h0.01M356.8,306.4h0.01M365.1,308.0h0.01M365.3,293.9h0.01M352.0,305.6h0.01M366.9,303.2h0.01M350.4,300.1h0.01M351.8,296.7h0.01M367.4,298.2h0.01M356.7,317.2h0.01M365.1,304.8h0.01M352.2,305.3h0.01M368.3,306.7h0.01M365.7,303.2h0.01M360.3,301.1h0.01M359.7,311.3h0.01M346.3,302.1h0.01M358.3,298.6h0.01M354.4,307.9h0.01M371.0,306.8h0.01M358.9,292.0h0.01M370.5,303.0h0.01M356.4,294.9h0.01M356.2,295.0h0.01M357.1,305.7h0.01M356.8,304.4h0.01M350.5,312.2h0.01M351.9,290.1h0.01M355.2,297.3h0.01M349.3,300.1h0.01M358.7,294.5h0.01M355.6,312.2h0.01M361.5,301.5h0.01M357.5,301.7h0.01M356.3,307.5h0.01M356.4,296.5h0.01M361.3,298.3h0.01M357.7,317.3h0.01M349.1,294.9h0.01M343.1,305.0h0.01M352.0,289.8h0.01M345.9,306.7h0.01M351.0,300.0h0.01M359.0,311.7h0.01M370.6,309.5h0.01M357.6,303.8h0.01M369.6,312.2h0.01M354.4,305.6h0.01" stroke="#1a1a1a" stroke-width="0.8" stroke-linecap="round" fill="none"/>
<path d="M359.2,331.4h0.01M355.3,325.1h0.01M355.1,324.1h0.01M363.9,333.7h0.01M351.8,337.6h0.01M362.3,322.4h0.01M367.0,334.9h0.01M368.1,325.5h0.01M360.5,333.1h0.01M358.8,332.0h0.01M363.1,324.3h0.01M351.6,324.8h0.01M355.0,328.4h0.01M359.6,332.4h0.01M358.0,328.1h0.01M355.6,335.6h0.01M361.6,331.7h0.01M356.2,338.3h0.01M354.8,334.2h0.01M363.6,330.0h0.01M361.9,326.1h0.01M362.9,332.1h0.01M349.9,334.3h0.01M353.3,337.1h0.01M354.4,330.4h0.01M359.2,329.7h0.01M359.1,328.7h0.01M361.2,331.2h0.01M358.9,318.5h0.01M363.6,331.3h0.01M348.9,331.6h0.01M360.1,336.1h0.01M352.4,338.3h0.01M357.0,342.2h0.01M357.1,334.3h0.01M356.0,326.1h0.01M363.3,335.4h0.01M365.5,335.1h0.01M354.9,323.6h0.01M354.5,328.1h0.01M353.7,333.9h0.01M359.4,330.0h0.01M358.7,330.5h0.01M358.9,334.7h0.01M362.6,328.0h0.01M350.3,337.8h0.01M358.4,336.3h0.01M349.6,329.7h0.01M357.9,324.6h0.01M355.2,334.5h0.01M363.2,338.5h0.01M353.5,324.8h0.01M360.4,335.5h0.01M358.8,325.2h0.01M361.7,334.8h0.01M360.6,329.0h0.01M359.3,334.8h0.01M355.0,322.7h0.01M359.4,333.4h0.01M357.9,335.3h0.01M354.9,330.8h0.01M356.3,333.8h0.01M365.8,330.0h0.01M368.1,338.2h0.01M361.8,333.9h0.01M366.7,330.4h0.01M357.2,326.3h0.01M360.2,337.4h0.01M360.5,333.1h0.01M356.8,332.0h0.01M350.7,336.0h0.01M355.8,326.1h0.01M354.0,327.4h0.01M362.1,336.1h0.01M351.0,335.5h0.01M362.2,328.5h0.01M350.4,327.8h0.01M354.6,332.8h0.01M356.0,321.9h0.01M359.0,324.1h0.01M362.3,325.6h0.01M354.3,327.3h0.01M355.1,337.2h0.01M362.1,334.0h0.01M359.4,324.1h0.01M355.2,328.7h0.01M352.9,333.5h0.01M354.1,327.9h0.01M352.6,321.7h0.01M360.8,337.3h0.01M358.7,326.7h0.01M344.3,332.0h0.01M363.9,332.6h0.01M362.4,338.0h0.01M363.4,329.2h0.01M363.1,334.8h0.01M350.1,329.3h0.01M350.7,330.7h0.01M360.7,326.3h0.01M347.5,337.2h0.01M359.7,338.0h0.01M351.2,336.1h0.01M368.2,340.4h0.01M356.7,332.4h0.01M357.0,335.8h0.01M363.0,331.6h0.01M351.0,334.6h0.01M355.5,334.1h0.01M359.1,338.7h0.01M363.5,329.1h0.01M359.5,339.3h0.01M355.1,333.2h0.01M363.8,337.0h0.01M360.4,325.1h0.01M351.5,332.3h0.01M359.7,342.9h0.01M353.5,336.4h0.01M361.7,323.5h0.01M353.7,332.0h0.01M355.3,330.5h0.01M360.2,327.5h0.01M360.1,328.3h0.01M355.1,333.7h0.01M354.9,332.5h0.01M365.8,331.3h0.01M357.1,334.6h0.01M356.0,336.2h0.01M351.4,334.0h0.01M355.2,327.5h0.01M366.6,327.3h0.01M366.6,334.2h0.01M365.1,326.7h0.01M363.8,337.9h0.01M357.2,330.6h0.01M370.1,332.0h0.01M355.7,328.3h0.01M360.0,332.7h0.01M358.7,339.1h0.01M356.2,333.4h0.01M365.1,326.6h0.01M363.0,339.6h0.01M351.0,326.2h0.01M352.6,322.7h0.01M360.1,322.7h0.01M360.3,337.9h0.01M349.7,329.7h0.01M348.2,334.8h0.01M354.1,330.0h0.01M358.1,333.7h0.01M356.1,331.3h0.01M355.1,331.7h0.01M351.9,331.5h0.01M348.1,328.9h0.01M367.4,331.6h0.01M351.5,332.4h0.01M352.9,323.6h0.01M354.1,334.6h0.01M359.7,330.8h0.01M353.2,326.2h0.01M364.5,332.3h0.01M353.0,321.5h0.01M351.0,342.6h0.01M352.1,330.8h0.01M358.9,330.5h0.01M356.4,324.9h0.01M352.5,339.0h0.01M354.0,335.1h0.01M349.3,329.9h0.01M359.1,336.0h0.01M352.2,333.9h0.01M359.7,327.8h0.01M360.2,327.1h0.01M353.8,331.1h0.01M344.2,330.7h0.01M352.8,324.5h0.01M355.7,334.7h0.01M355.8,337.0h0.01M352.0,325.2h0.01M365.6,333.0h0.01M362.5,327.4h0.01M361.8,332.4h0.01M361.0,331.3h0.01M363.8,328.2h0.01M353.0,324.4h0.01M363.6,327.8h0.01M352.6,326.9h0.01M355.6,325.4h0.01M356.3,328.3h0.01M355.0,326.8h0.01M358.0,329.1h0.01M358.4,332.3h0.01M359.5,321.1h0.01M355.1,327.5h0.01M361.7,323.9h0.01M354.2,329.8h0.01M356.1,335.8h0.01M355.6,335.6h0.01M350.5,322.9h0.01M363.9,333.2h0.01M360.2,331.8h0.01M360.2,325.6h0.01M362.5,328.8h0.01M362.7,331.6h0.01M347.9,325.3h0.01M363.4,330.6h0.01M355.8,332.3h0.01M355.7,328.7h0.01M358.3,331.9h0.01M365.4,331.4h0.01M367.2,339.5h0.01M366.4,336.1h0.01M358.5,331.8h0.01M357.1,327.8h0.01M357.5,328.3h0.01M366.0,333.7h0.01M355.6,322.4h0.01M357.5,329.3h0.01M352.4,326.0h0.01M346.5,333.8h0.01M357.5,343.1h0.01M357.6,330.5h0.01M365.0,331.8h0.01M358.6,329.5h0.01M354.8,338.1h0.01M362.8,339.1h0.01M356.1,331.3h0.01M353.4,335.6h0.01M350.8,333.8h0.01M363.3,337.7h0.01M353.1,336.2h0.01M354.2,327.7h0.01M351.2,336.5h0.01M366.0,328.5h0.01M354.0,329.6h0.01M370.3,335.8h0.01M355.1,322.9h0.01M354.4,336.7h0.01M367.1,330.0h0.01M354.3,328.9h0.01M348.4,335.4h0.01M352.4,336.1h0.01M349.3,325.4h0.01M359.2,327.7h0.01M361.7,331.2h0.01M351.9,334.1h0.01M362.0,322.4h0.01M366.9,333.5h0.01M361.6,322.6h0.01M354.2,329.6h0.01M363.2,324.5h0.01M353.4,321.9h0.01M356.6,332.8h0.01M349.4,328.5h0.01M360.4,338.5h0.01M361.1,329.8h0.01M351.9,326.9h0.01M354.5,331.9h0.01M357.6,338.9h0.01M359.2,326.3h0.01M365.5,335.6h0.01M358.3,327.9h0.01M348.4,326.5h0.01M362.4,327.5h0.01M351.2,332.1h0.01M359.0,334.0h0.01M361.1,337.7h0.01M353.6,335.7h0.01M352.9,334.4h0.01M358.7,332.3h0.01M362.6,331.1h0.01M363.4,335.2h0.01M358.5,328.6h0.01M354.0,328.8h0.01M356.8,331.1h0.01M372.7,334.1h0.01M361.6,327.2h0.01M354.2,329.7h0.01M358.8,326.4h0.01M365.9,328.6h0.01M363.2,320.5h0.01M357.8,332.5h0.01M358.8,334.0h0.01M359.2,331.9h0.01M348.3,327.9h0.01M346.1,334.1h0.01M359.3,330.3h0.01M353.7,328.5h0.01M367.0,339.2h0.01M357.5,337.1h0.01M349.9,322.3h0.01M355.4,327.2h0.01M355.0,332.1h0.01M372.9,328.2h0.01M358.0,332.5h0.01M357.6,335.5h0.01M366.7,325.5h0.01M358.6,330.0h0.01M359.6,324.2h0.01M349.0,320.5h0.01M360.4,332.1h0.01M358.2,320.3h0.01M355.9,327.7h0.01M350.7,327.0h0.01M361.3,333.7h0.01M357.7,333.6h0.01M354.8,331.5h0.01M358.0,333.8h0.01M357.5,330.5h0.01M357.1,328.2h0.01M369.0,333.6h0.01M359.9,341.7h0.01M364.8,324.0h0.01M361.3,335.1h0.01M367.2,337.3h0.01M361.7,325.8h0.01M353.4,332.4h0.01M360.3,326.5h0.01M355.9,329.4h0.01M358.1,332.7h0.01M356.4,325.5h0.01M364.0,338.5h0.01M357.3,335.9h0.01M360.0,334.2h0.01M360.2,327.7h0.01M360.7,335.8h0.01M353.3,340.2h0.01M368.2,339.6h0.01M367.7,334.6h0.01M356.1,328.4h0.01M353.7,331.7h0.01M357.6,334.3h0.01M347.7,341.8h0.01M369.2,331.1h0.01M361.2,333.4h0.01M359.2,330.2h0.01M357.2,327.4h0.01M358.7,331.1h0.01M359.4,327.3h0.01M358.0,331.4h0.01M360.8,326.3h0.01M359.9,335.7h0.01M360.8,329.5h0.01M355.3,330.1h0.01M361.4,338.3h0.01M357.0,328.2h0.01M359.7,332.1h0.01M353.3,327.8h0.01M357.3,334.3h0.01M351.8,326.5h0.01M360.3,325.6h0.01M358.3,332.8h0.01M357.2,326.5h0.01M357.5,329.7h0.01M359.5,327.3h0.01M363.3,323.5h0.01M356.9,331.2h0.01M362.6,328.4h0.01M360.5,328.6h0.01M361.5,339.2h0.01M355.8,333.2h0.01M353.2,335.7h0.01M363.9,331.4h0.01M352.1,333.1h0.01M363.5,336.2h0.01M361.9,322.8h0.01M354.4,337.7h0.01M351.7,336.4h0.01M367.2,334.7h0.01M363.4,329.7h0.01M351.7,330.7h0.01M356.8,331.0h0.01M361.3,330.5h0.01M358.8,333.2h0.01M357.8,339.7h0.01M360.0,331.6h0.01M356.8,328.3h0.01M364.5,331.9h0.01M352.4,328.6h0.01M357.1,329.2h0.01M363.2,325.9h0.01M360.3,331.9h0.01M351.9,331.4h0.01M357.3,333.5h0.01M355.5,332.6h0.01M349.5,326.2h0.01M361.7,336.0h0.01M357.7,328.4h0.01M363.2,321.6h0.01M353.8,334.3h0.01M361.1,326.5h0.01M348.4,337.9h0.01M358.6,327.1h0.01M358.1,335.3h0.01M344.8,336.3h0.01M361.5,321.6h0.01M361.7,323.0h0.01M363.5,333.0h0.01M369.1,328.4h0.01M357.8,336.0h0.01M354.6,328.0h0.01M355.9,330.9h0.01M352.4,333.4h0.01M360.5,331.5h0.01M366.3,329.7h0.01M364.3,328.7h0.01M361.6,322.3h0.01M358.8,330.4h0.01M355.3,328.4h0.01M356.1,327.9h0.01M346.8,328.5h0.01M355.1,328.8h0.01M352.5,330.6h0.01M361.7,330.0h0.01M355.3,337.4h0.01M362.7,335.4h0.01M363.6,329.7h0.01M357.2,336.3h0.01M355.0,330.6h0.01M359.7,332.9h0.01M356.4,335.7h0.01M356.9,334.5h0.01M363.2,334.2h0.01M361.5,325.9h0.01M351.2,328.4h0.01M360.2,338.1h0.01M351.7,332.6h0.01M353.5,327.8h0.01M356.4,334.4h0.01M358.9,336.6h0.01M352.9,335.3h0.01M362.5,331.5h0.01M360.2,328.6h0.01M352.4,329.3h0.01M354.6,344.5h0.01M355.4,338.8h0.01M358.8,332.6h0.01M361.5,327.6h0.01M362.4,332.9h0.01M350.2,334.0h0.01M360.6,333.3h0.01M365.7,329.3h0.01M360.4,334.6h0.01M353.3,336.7h0.01M350.5,325.2h0.01M360.4,326.2h0.01M357.2,323.6h0.01M358.1,326.0h0.01M359.5,324.2h0.01M360.0,330.0h0.01M358.1,330.9h0.01M358.5,325.1h0.01M345.0,331.4h0.01M353.1,329.1h0.01M359.9,322.1h0.01M354.0,328.4h0.01M352.5,332.7h0.01M357.1,327.4h0.01M352.9,334.9h0.01M354.5,333.9h0.01M360.0,322.5h0.01M352.4,331.2h0.01M359.5,334.8h0.01M361.8,336.0h0.01M355.9,330.2h0.01M361.7,329.2h0.01M363.1,323.9h0.01M361.1,330.4h0.01M348.0,335.7h0.01M359.4,331.3h0.01M352.4,329.1h0.01M365.4,327.4h0.01M351.8,330.6h0.01M355.8,327.0h0.01M353.6,336.0h0.01M350.6,340.2h0.01M355.1,326.2h0.01M361.7,333.8h0.01M352.6,334.6h0.01M348.6,327.0h0.01M363.4,330.0h0.01M351.3,333.6h0.01M362.4,331.1h0.01M348.8,329.6h0.01M359.9,334.7h0.01M367.1,330.0h0.01M355.4,331.0h0.01M363.8,326.9h0.01M364.3,318.6h0.01M361.8,328.1h0.01M360.1,334.4h0.01M351.9,330.8h0.01M359.0,333.9h0.01M353.1,326.6h0.01M348.2,342.9h0.01M356.8,330.2h0.01M350.3,335.5h0.01M355.1,337.8h0.01M362.1,331.3h0.01M361.4,326.1h0.01M356.2,328.6h0.01M351.5,331.3h0.01M357.1,337.8h0.01M353.2,329.1h0.01M359.9,333.1h0.01M357.9,329.0h0.01M360.3,332.9h0.01M348.6,330.0h0.01M350.9,325.8h0.01M358.5,331.5h0.01M358.4,327.2h0.01M356.8,327.0h0.01M359.7,334.4h0.01M366.6,337.0h0.01M353.8,329.1h0.01M353.1,332.6h0.01M367.7,334.5h0.01M346.8,325.4h0.01M351.3,333.6h0.01M357.8,332.6h0.01M366.7,327.4h0.01" stroke="#1a1a1a" stroke-width="0.8" stroke-linecap="round" fill="none"/>
<path d="M350.3,345.8h0.01M360.4,326.5h0.01M357.9,339.0h0.01M356.3,327.1h0.01M351.2,345.3h0.01M357.7,336.3h0.01M354.1,335.5h0.01M364.4,331.0h0.01M353.6,330.7h0.01M349.3,330.5h0.01M354.9,333.5h0.01M368.9,341.2h0.01M353.7,336.2h0.01M360.0,337.3h0.01M357.7,333.9h0.01M353.5,326.5h0.01M364.9,341.1h0.01M363.1,335.1h0.01M359.8,328.8h0.01M359.2,328.1h0.01M349.3,340.9h0.01M362.9,348.6h0.01M351.4,331.8h0.01M353.2,333.1h0.01M355.7,326.8h0.01M366.6,326.5h0.01M353.2,335.9h0.01M352.9,329.0h0.01M360.5,329.4h0.01M346.9,331.3h0.01M355.6,343.9h0.01M348.2,338.8h0.01M350.8,329.5h0.01M354.7,333.9h0.01M364.8,344.2h0.01M352.1,341.3h0.01M366.0,337.7h0.01M351.0,338.3h0.01M356.6,334.5h0.01M355.2,336.6h0.01M367.0,339.9h0.01M355.8,339.0h0.01M369.8,325.5h0.01M370.0,322.7h0.01M362.1,336.2h0.01M370.1,334.0h0.01M353.4,326.4h0.01M346.9,337.4h0.01M355.5,327.0h0.01M362.0,326.6h0.01M353.8,328.8h0.01M371.6,342.2h0.01M356.2,321.0h0.01M359.9,332.5h0.01M360.5,336.0h0.01M354.8,338.5h0.01M364.6,333.5h0.01M354.0,328.6h0.01M363.4,324.3h0.01M356.1,326.8h0.01M345.7,336.2h0.01M357.3,332.3h0.01M364.9,321.5h0.01M356.9,334.0h0.01M364.6,324.4h0.01M363.6,333.5h0.01M369.0,340.0h0.01M362.2,347.0h0.01M357.5,329.0h0.01M354.6,325.4h0.01M357.3,318.9h0.01M356.8,335.0h0.01M365.9,329.6h0.01M369.3,327.4h0.01M356.4,318.9h0.01M351.0,326.5h0.01M369.9,335.6h0.01M348.3,335.6h0.01M361.5,330.4h0.01M357.7,329.9h0.01M353.0,319.9h0.01M356.7,340.8h0.01M369.4,330.1h0.01M351.3,330.6h0.01M364.9,334.4h0.01M352.7,334.5h0.01M355.8,335.5h0.01M354.1,322.0h0.01M358.0,337.2h0.01M348.3,331.3h0.01M364.8,329.4h0.01M352.1,345.9h0.01M364.4,339.0h0.01M349.7,343.1h0.01M343.8,328.5h0.01M363.6,341.1h0.01M349.8,327.5h0.01M359.1,318.9h0.01M362.8,335.8h0.01M353.8,335.7h0.01M363.9,334.1h0.01M361.8,342.3h0.01M353.6,333.1h0.01M353.2,339.0h0.01M354.1,335.2h0.01M358.6,332.5h0.01M371.6,331.4h0.01M369.2,337.6h0.01M368.4,330.9h0.01M365.1,337.1h0.01M352.4,333.8h0.01M356.4,331.8h0.01M368.2,327.1h0.01M343.7,320.2h0.01M353.8,327.6h0.01M357.6,335.8h0.01M371.9,334.1h0.01M361.3,327.0h0.01M362.3,341.2h0.01M368.5,318.8h0.01M364.8,342.7h0.01M364.3,321.9h0.01M355.0,336.0h0.01M360.9,326.5h0.01M350.2,338.5h0.01M346.6,341.7h0.01M357.7,334.0h0.01M346.6,328.0h0.01M363.1,322.1h0.01M374.4,322.5h0.01M347.5,332.3h0.01M361.4,336.9h0.01M354.5,330.6h0.01M355.6,328.1h0.01M359.6,333.1h0.01M352.4,333.7h0.01M357.4,331.5h0.01M366.5,320.4h0.01M359.6,324.8h0.01M354.9,342.1h0.01M348.6,331.3h0.01M352.7,338.4h0.01M349.5,320.7h0.01M361.7,329.6h0.01M354.9,339.3h0.01M350.3,329.5h0.01M358.7,334.8h0.01M353.3,339.0h0.01M375.8,329.3h0.01M372.8,317.8h0.01M369.0,329.7h0.01M358.6,329.7h0.01M352.3,323.4h0.01M354.3,340.7h0.01M366.8,329.7h0.01M353.2,327.3h0.01M347.7,344.1h0.01M362.9,332.8h0.01M353.5,325.1h0.01M368.2,337.2h0.01M349.7,338.6h0.01M348.5,336.3h0.01M349.7,329.2h0.01M361.5,334.9h0.01M365.8,326.4h0.01M370.4,341.0h0.01M357.4,335.1h0.01M351.2,331.0h0.01M346.7,332.6h0.01M359.1,341.0h0.01M365.2,337.5h0.01M354.5,330.5h0.01M354.7,333.5h0.01M344.7,328.5h0.01M357.7,328.5h0.01M371.1,331.3h0.01M370.3,339.9h0.01M353.4,334.7h0.01M368.1,329.8h0.01M358.2,328.2h0.01M358.0,329.6h0.01M358.2,338.7h0.01M368.9,332.9h0.01M359.1,337.8h0.01M355.1,324.9h0.01M366.6,325.7h0.01M365.1,325.5h0.01M372.4,325.0h0.01M364.4,342.1h0.01M349.7,342.0h0.01M350.8,320.1h0.01M363.4,336.7h0.01M355.8,315.0h0.01M357.1,329.9h0.01M354.4,330.1h0.01M342.9,328.2h0.01M372.2,342.4h0.01M354.5,327.2h0.01M360.7,339.1h0.01M363.4,324.1h0.01M358.8,332.9h0.01M369.2,340.0h0.01M361.8,340.2h0.01M354.3,342.3h0.01M354.0,334.7h0.01M365.0,325.9h0.01M351.8,320.2h0.01M358.8,331.6h0.01M354.8,335.3h0.01M358.2,330.2h0.01M364.0,343.8h0.01M353.9,325.7h0.01M352.6,332.6h0.01M362.3,326.2h0.01M365.7,325.1h0.01M364.2,334.9h0.01M361.3,346.5h0.01M355.3,330.9h0.01M361.4,337.8h0.01M346.6,333.8h0.01M351.4,336.2h0.01M368.7,332.3h0.01M356.6,333.2h0.01M362.1,333.1h0.01M354.3,327.1h0.01M356.0,340.2h0.01M356.7,341.1h0.01M359.7,331.9h0.01M344.0,327.5h0.01M367.7,323.3h0.01M349.4,324.6h0.01M353.0,336.3h0.01M362.3,318.4h0.01M369.4,328.0h0.01M352.7,343.2h0.01M356.8,323.7h0.01M352.3,327.1h0.01M349.3,329.8h0.01M364.7,334.4h0.01M346.2,350.7h0.01M349.4,332.8h0.01M357.8,337.1h0.01M354.8,335.1h0.01M374.7,332.6h0.01M348.7,334.2h0.01M350.9,329.5h0.01M359.0,334.3h0.01M355.2,337.7h0.01M355.9,323.2h0.01M364.7,329.6h0.01M367.4,327.6h0.01M362.2,334.1h0.01M348.4,341.5h0.01M366.4,335.3h0.01M363.0,328.7h0.01M357.4,333.5h0.01M360.9,336.8h0.01M355.8,327.3h0.01M352.9,334.8h0.01M343.9,323.6h0.01M354.1,328.3h0.01M355.3,314.1h0.01M354.7,330.3h0.01M363.8,318.7h0.01M355.0,335.2h0.01M361.5,340.0h0.01M366.1,324.9h0.01M362.7,329.7h0.01M350.9,342.3h0.01M352.4,326.3h0.01M354.2,326.3h0.01M365.7,334.6h0.01M368.9,334.8h0.01M352.5,339.0h0.01M352.1,328.9h0.01M356.1,332.3h0.01M367.3,327.9h0.01M360.4,331.8h0.01M347.2,324.6h0.01M355.7,334.7h0.01M360.1,335.2h0.01M357.9,329.0h0.01M361.0,325.2h0.01M346.5,329.8h0.01M345.8,328.5h0.01M351.4,328.3h0.01M357.1,326.6h0.01M354.0,320.5h0.01M358.7,326.1h0.01M360.8,312.9h0.01M350.9,333.6h0.01M358.3,332.7h0.01M345.2,333.5h0.01M358.7,325.4h0.01M363.6,331.7h0.01M357.7,329.0h0.01M362.0,332.7h0.01M366.8,335.1h0.01M352.4,330.5h0.01M365.0,329.5h0.01M360.6,335.5h0.01M356.0,316.3h0.01M358.6,333.4h0.01M358.6,326.9h0.01M367.4,331.1h0.01M352.4,327.1h0.01M360.4,324.6h0.01M349.3,345.5h0.01M368.3,339.1h0.01M368.7,336.0h0.01M343.6,340.1h0.01M367.7,335.3h0.01M368.7,328.7h0.01M358.5,337.3h0.01M356.8,339.4h0.01M358.2,336.7h0.01M358.2,322.0h0.01M349.3,353.5h0.01M359.8,340.9h0.01M366.9,343.6h0.01M362.1,328.0h0.01M357.7,319.0h0.01M355.9,338.2h0.01M364.3,341.0h0.01M349.9,327.6h0.01M361.9,346.1h0.01M348.0,341.4h0.01M361.0,328.6h0.01M375.6,314.9h0.01M356.9,333.5h0.01M375.1,344.2h0.01M376.2,332.9h0.01M365.6,341.3h0.01M361.7,334.4h0.01M356.0,329.2h0.01M347.3,345.3h0.01M353.8,317.9h0.01M359.7,331.8h0.01M359.0,344.3h0.01M356.6,330.2h0.01M351.3,331.8h0.01M353.9,333.4h0.01M383.3,334.7h0.01M350.4,345.1h0.01M364.6,337.6h0.01M363.4,337.6h0.01M363.1,341.6h0.01M365.8,341.2h0.01M353.3,332.0h0.01M351.5,338.5h0.01M364.4,328.8h0.01M362.3,349.9h0.01M367.7,324.4h0.01M356.7,336.3h0.01M357.2,334.6h0.01M367.3,334.2h0.01M348.4,336.9h0.01M356.7,332.8h0.01M352.8,322.6h0.01M347.2,329.6h0.01M348.6,313.5h0.01M367.0,324.1h0.01M351.5,335.6h0.01M351.1,336.5h0.01M353.5,334.1h0.01M358.4,332.0h0.01M357.2,341.6h0.01M353.0,335.6h0.01M358.8,335.3h0.01M365.7,321.8h0.01M359.8,330.8h0.01M354.9,326.2h0.01M351.0,325.0h0.01M348.4,349.1h0.01M371.6,332.1h0.01M363.6,325.3h0.01M358.7,341.8h0.01M357.2,325.2h0.01M355.5,325.2h0.01M345.9,330.4h0.01M354.2,326.5h0.01M350.2,325.7h0.01M359.5,341.5h0.01M355.8,347.3h0.01M344.1,333.9h0.01M347.9,330.9h0.01M358.3,335.8h0.01M366.9,328.2h0.01M347.2,330.7h0.01M359.9,327.2h0.01M364.9,343.5h0.01M345.7,334.5h0.01M365.9,318.9h0.01M359.2,330.5h0.01M345.7,341.0h0.01M359.3,328.7h0.01M361.2,336.4h0.01M363.9,336.0h0.01M360.9,324.0h0.01M354.0,332.9h0.01" stroke="#1a1a1a" stroke-width="0.8" stroke-linecap="round" fill="none"/>
<path d="M354.2,304.6h0.01M343.7,321.2h0.01M357.2,310.6h0.01M354.0,306.7h0.01M351.5,316.8h0.01M352.3,326.6h0.01M356.0,319.7h0.01M360.0,334.1h0.01M361.4,320.9h0.01M355.8,307.8h0.01M354.5,326.6h0.01M358.7,313.1h0.01M347.3,298.6h0.01M359.4,331.0h0.01M359.7,300.6h0.01M355.4,320.8h0.01M350.3,322.4h0.01M355.5,307.4h0.01M347.9,328.3h0.01M359.6,306.8h0.01M349.6,329.3h0.01M361.4,314.1h0.01M368.6,314.3h0.01M349.3,331.8h0.01M355.6,322.4h0.01M357.3,305.3h0.01M348.3,315.5h0.01M367.3,305.3h0.01M366.9,320.8h0.01M348.9,321.4h0.01M361.1,306.6h0.01M348.9,323.6h0.01M343.0,316.2h0.01M351.1,299.3h0.01M355.2,320.2h0.01M352.9,303.1h0.01M358.5,295.9h0.01M360.9,324.2h0.01M369.2,329.2h0.01M359.6,321.3h0.01M357.2,301.2h0.01M367.7,324.7h0.01M354.9,303.5h0.01M367.8,324.7h0.01M348.4,326.5h0.01M370.8,317.7h0.01M359.9,312.7h0.01M352.4,331.6h0.01M379.4,319.5h0.01M356.1,328.0h0.01M354.8,327.2h0.01M363.0,305.2h0.01M349.2,317.1h0.01M363.1,321.5h0.01M366.0,300.6h0.01M360.6,310.1h0.01M357.7,322.1h0.01M349.9,315.1h0.01M348.5,321.4h0.01M350.8,311.8h0.01M358.6,309.8h0.01M365.4,310.0h0.01M363.2,321.6h0.01M349.5,315.2h0.01M350.9,313.4h0.01M355.0,340.9h0.01M354.0,337.8h0.01M360.3,301.5h0.01M364.5,322.9h0.01M355.5,314.8h0.01M358.9,314.2h0.01M353.1,313.3h0.01M365.5,310.2h0.01M359.8,303.5h0.01M351.8,300.7h0.01M355.6,326.6h0.01M359.2,311.8h0.01M361.4,313.6h0.01M359.7,321.4h0.01M347.5,327.7h0.01M356.2,346.2h0.01M355.3,311.1h0.01M367.8,325.0h0.01M370.8,324.4h0.01M355.5,327.1h0.01M351.3,312.4h0.01M353.0,315.2h0.01M362.7,311.9h0.01M359.3,311.7h0.01M355.5,320.1h0.01M349.2,330.7h0.01M358.6,334.1h0.01M364.0,326.1h0.01M355.9,304.3h0.01M355.4,312.2h0.01M358.8,312.2h0.01M379.2,297.9h0.01M365.5,312.1h0.01M355.2,329.6h0.01M357.0,302.8h0.01M360.0,315.5h0.01M349.4,308.7h0.01M360.5,321.8h0.01M354.9,345.2h0.01M360.0,310.3h0.01M358.7,316.5h0.01M346.9,343.9h0.01M355.7,314.5h0.01M352.9,330.3h0.01M357.2,339.4h0.01M362.7,338.6h0.01M356.2,322.7h0.01M353.9,315.9h0.01M344.5,310.7h0.01M350.1,309.8h0.01M365.8,321.3h0.01M365.9,328.8h0.01M363.7,330.6h0.01M352.6,328.1h0.01M354.7,311.4h0.01M365.6,345.1h0.01M349.9,339.8h0.01M363.0,307.4h0.01M359.0,322.7h0.01M359.7,313.5h0.01M347.7,318.4h0.01M363.2,327.8h0.01M361.8,331.8h0.01M349.8,317.5h0.01M359.5,330.5h0.01M358.1,324.5h0.01M358.0,344.3h0.01M374.9,321.0h0.01M343.8,319.7h0.01M346.6,309.5h0.01M358.6,339.5h0.01M360.3,326.4h0.01M364.4,320.5h0.01M350.8,316.8h0.01M359.4,314.5h0.01" stroke="#1a1a1a" stroke-width="0.8" stroke-linecap="round" fill="none"/>
<path d="M371.6,320.5h0.01M378.9,320.4h0.01M380.5,347.6h0.01M383.8,325.5h0.01M384.7,312.6h0.01M385.4,309.5h0.01M381.7,324.9h0.01M392.5,320.0h0.01M375.3,329.8h0.01M380.7,352.0h0.01M376.8,317.7h0.01M376.0,333.3h0.01M382.9,336.7h0.01M403.0,325.5h0.01M385.2,291.6h0.01M380.2,303.2h0.01M385.7,347.3h0.01M392.9,302.8h0.01M397.3,340.0h0.01M375.5,333.7h0.01M399.0,320.9h0.01M379.8,317.4h0.01M394.5,292.8h0.01M397.8,311.1h0.01M391.6,301.0h0.01M390.4,301.0h0.01M387.5,316.2h0.01M395.5,321.2h0.01M386.1,323.4h0.01M402.4,320.5h0.01M381.0,336.6h0.01M370.8,329.1h0.01M371.9,302.9h0.01M385.3,302.7h0.01M402.7,315.3h0.01M375.4,329.8h0.01" stroke="#666" stroke-width="0.72" stroke-linecap="round" fill="none"/>
<path d="M343.7,345.0h0.01M343.2,328.1h0.01M344.0,342.0h0.01M342.7,320.6h0.01M342.7,294.1h0.01M344.0,315.7h0.01M343.7,318.4h0.01M343.2,301.3h0.01M343.3,345.6h0.01M343.7,306.8h0.01M342.8,305.3h0.01M343.8,317.3h0.01M343.8,343.0h0.01M342.9,334.2h0.01M342.8,344.1h0.01M343.0,305.4h0.01M344.2,311.7h0.01M343.1,348.8h0.01M343.7,349.1h0.01M343.3,321.4h0.01M344.2,321.9h0.01M344.3,299.6h0.01M344.0,297.7h0.01M343.5,286.3h0.01M343.0,352.6h0.01M343.4,343.1h0.01M343.1,311.0h0.01M342.9,325.1h0.01M344.1,322.4h0.01M343.3,351.5h0.01M344.1,333.1h0.01M342.8,330.1h0.01M343.4,353.5h0.01M343.3,332.7h0.01M343.7,312.7h0.01M343.5,333.8h0.01M344.2,321.3h0.01M343.3,354.8h0.01M342.8,344.9h0.01M343.8,325.4h0.01M343.4,339.0h0.01M344.1,337.5h0.01M343.9,288.8h0.01M343.2,295.9h0.01M344.2,348.9h0.01M342.9,327.5h0.01M343.6,289.6h0.01M343.3,338.8h0.01M343.7,306.0h0.01M343.9,306.7h0.01M343.6,315.8h0.01M344.3,331.8h0.01M344.0,333.8h0.01M343.3,353.9h0.01M343.8,334.8h0.01" stroke="#555" stroke-width="0.8" stroke-linecap="round" fill="none"/>
<path d="M355.8,355.2h0.01M369.9,356.2h0.01M380.2,355.5h0.01M349.3,355.7h0.01M384.2,355.2h0.01M377.6,355.2h0.01M357.5,355.0h0.01M356.8,355.5h0.01M388.4,356.4h0.01M351.6,355.4h0.01M387.3,355.2h0.01M357.9,355.6h0.01M347.8,355.3h0.01M361.3,355.5h0.01M388.3,355.3h0.01M352.3,356.4h0.01M364.0,356.2h0.01M372.8,356.1h0.01M357.6,355.1h0.01M378.5,355.7h0.01M369.1,356.0h0.01M378.3,355.3h0.01M359.9,356.4h0.01M367.7,355.4h0.01M372.5,355.3h0.01M379.2,355.0h0.01M381.8,355.8h0.01M359.4,356.4h0.01M355.3,355.3h0.01M346.0,355.8h0.01M378.4,356.0h0.01M362.2,356.2h0.01M348.0,355.4h0.01M373.2,356.4h0.01M372.7,356.0h0.01M379.3,355.5h0.01M387.2,356.1h0.01M358.9,355.5h0.01M380.8,355.5h0.01M351.5,356.3h0.01M367.9,355.7h0.01M374.4,356.3h0.01M349.0,355.4h0.01M345.8,355.6h0.01M366.5,356.3h0.01" stroke="#555" stroke-width="0.8" stroke-linecap="round" fill="none"/>
<line x1="342.7" y1="278.3" x2="342.7" y2="356.5" stroke="#c4c4c4" stroke-width="0.7" />
<line x1="342.7" y1="356.5" x2="420" y2="356.5" stroke="#a8a8a8" stroke-width="0.8" />
<line x1="420" y1="278.3" x2="420" y2="356.5" stroke="#777" stroke-width="0.9" />
<line x1="342.3" y1="278.3" x2="420.4" y2="278.3" stroke="#1a1a1a" stroke-width="1.3" />
<line x1="342.7" y1="297.85" x2="343.9" y2="297.85" stroke="#999" stroke-width="0.6" />
<line x1="362.025" y1="355.3" x2="362.025" y2="356.5" stroke="#999" stroke-width="0.6" />
<line x1="342.7" y1="317.4" x2="343.9" y2="317.4" stroke="#999" stroke-width="0.6" />
<line x1="381.35" y1="355.3" x2="381.35" y2="356.5" stroke="#999" stroke-width="0.6" />
<line x1="342.7" y1="336.95" x2="343.9" y2="336.95" stroke="#999" stroke-width="0.6" />
<line x1="400.675" y1="355.3" x2="400.675" y2="356.5" stroke="#999" stroke-width="0.6" />
<line x1="369.5" y1="278.3" x2="369.5" y2="356.5" stroke="#111" stroke-width="1.3" />
<line x1="342.7" y1="320.5" x2="420" y2="320.5" stroke="#111" stroke-width="1.3" />
<text x="347.5" y="288.8" font-size="9.4" text-anchor="start" fill="#000" font-weight="bold" >30</text>
<text x="416.3" y="288.8" font-size="9.4" text-anchor="end" fill="#000" font-weight="bold" >1.6</text>
<text x="414.8" y="348.4" font-size="9.4" text-anchor="end" fill="#000" font-weight="bold" >3</text>
<path d="M449.9,325.4h0.01M447.6,333.8h0.01M451.9,339.1h0.01M456.0,322.2h0.01M458.3,336.0h0.01M453.7,325.2h0.01M463.0,324.8h0.01M453.1,322.2h0.01M446.8,323.1h0.01M459.3,335.7h0.01M451.3,324.6h0.01M453.2,332.2h0.01M445.3,325.4h0.01M453.0,333.6h0.01M453.9,332.5h0.01M446.8,319.6h0.01M455.2,326.5h0.01M452.8,328.8h0.01M456.1,327.1h0.01M461.2,330.6h0.01M456.3,333.3h0.01M459.1,332.3h0.01M444.1,327.7h0.01M463.5,332.6h0.01M456.5,332.6h0.01M450.1,327.5h0.01M450.0,335.6h0.01M455.5,338.3h0.01M456.2,338.8h0.01M456.0,325.3h0.01M462.9,332.0h0.01M459.9,331.4h0.01M451.7,331.2h0.01M447.5,325.2h0.01M448.7,328.2h0.01M446.2,330.0h0.01M455.1,339.4h0.01M463.4,330.3h0.01M458.3,329.5h0.01M455.6,330.4h0.01M450.6,330.8h0.01M445.5,332.4h0.01M451.9,325.7h0.01M451.6,332.9h0.01M449.8,332.6h0.01M456.6,337.4h0.01M447.6,330.0h0.01M456.3,337.1h0.01M454.9,333.8h0.01M445.6,327.9h0.01M462.5,329.2h0.01M465.2,327.3h0.01M452.0,323.4h0.01M456.9,331.7h0.01M464.4,331.2h0.01M452.1,324.3h0.01M453.1,334.7h0.01M457.5,336.0h0.01M458.2,330.3h0.01M456.8,331.3h0.01M446.3,338.1h0.01M455.5,325.8h0.01M455.6,331.8h0.01M458.9,336.9h0.01M437.0,333.0h0.01M461.8,326.3h0.01M443.4,331.7h0.01M455.3,332.1h0.01M447.5,328.4h0.01M454.6,333.8h0.01M465.4,331.8h0.01M450.2,320.0h0.01M459.3,329.9h0.01M452.9,326.1h0.01M457.5,322.5h0.01M454.1,331.0h0.01M455.1,336.3h0.01M453.0,330.9h0.01M458.2,323.6h0.01M451.9,330.8h0.01M458.7,326.9h0.01M457.9,332.2h0.01M445.4,323.9h0.01M445.7,331.1h0.01M454.6,333.7h0.01M458.0,328.0h0.01M459.3,334.2h0.01M456.1,332.6h0.01M446.5,332.1h0.01M447.9,325.2h0.01M451.6,331.1h0.01M453.2,329.0h0.01M448.0,331.3h0.01M449.4,324.2h0.01M454.0,337.0h0.01M451.3,325.7h0.01M461.1,338.2h0.01M451.9,329.6h0.01M454.7,343.7h0.01M454.2,335.0h0.01M455.9,322.4h0.01M447.5,325.0h0.01M455.9,331.0h0.01M463.3,329.3h0.01M455.2,330.8h0.01M454.3,340.9h0.01M455.1,337.1h0.01M460.6,327.8h0.01M457.3,328.8h0.01M454.1,331.2h0.01M453.6,328.4h0.01M462.0,329.3h0.01M457.4,338.0h0.01M456.9,335.1h0.01M461.1,335.4h0.01M462.9,324.1h0.01M464.2,330.6h0.01M443.9,327.6h0.01M445.9,330.4h0.01M445.3,326.0h0.01M455.1,331.2h0.01M449.1,329.4h0.01M453.0,330.8h0.01M453.5,329.5h0.01M458.3,323.3h0.01M450.8,331.1h0.01M451.3,328.0h0.01M451.1,331.4h0.01M460.3,329.7h0.01M452.0,332.1h0.01M452.2,321.8h0.01M455.0,328.8h0.01M450.4,333.3h0.01M453.7,328.0h0.01M441.5,322.8h0.01M453.6,330.0h0.01M455.9,331.5h0.01M450.9,324.8h0.01M447.5,329.9h0.01M447.2,333.9h0.01M446.2,322.4h0.01M452.4,322.5h0.01M462.4,326.0h0.01M453.2,329.4h0.01M449.0,322.5h0.01M443.3,334.4h0.01M459.1,340.2h0.01M445.5,333.0h0.01M453.4,334.3h0.01M450.7,333.7h0.01M458.4,333.2h0.01M461.5,329.7h0.01M462.0,327.3h0.01M462.7,318.1h0.01M453.6,326.9h0.01M453.5,335.1h0.01M457.4,330.9h0.01M462.9,323.9h0.01M449.0,337.3h0.01M455.3,321.2h0.01M455.4,325.2h0.01M461.6,335.6h0.01M450.5,336.3h0.01M448.9,334.6h0.01M456.7,329.9h0.01M445.7,329.2h0.01M440.9,328.0h0.01M443.3,336.0h0.01M448.2,319.6h0.01M456.7,332.2h0.01M450.7,340.0h0.01M457.8,330.8h0.01M450.0,317.2h0.01M456.1,334.8h0.01M450.2,324.1h0.01M453.3,323.0h0.01M453.5,334.0h0.01M461.8,331.7h0.01M454.6,333.9h0.01M461.2,329.1h0.01M446.7,326.9h0.01M446.6,326.5h0.01M452.8,332.0h0.01M454.4,330.8h0.01M451.5,332.4h0.01M458.4,333.9h0.01M461.7,329.2h0.01M452.1,338.1h0.01M454.6,332.4h0.01M451.7,334.9h0.01M451.3,326.0h0.01M453.2,328.5h0.01M458.1,328.8h0.01M454.2,329.5h0.01M455.4,327.7h0.01M459.6,324.1h0.01M451.4,327.3h0.01M457.1,330.7h0.01M456.2,329.0h0.01M449.6,325.5h0.01M451.7,328.1h0.01M455.0,332.1h0.01M458.9,330.0h0.01M449.4,325.7h0.01M453.8,332.1h0.01M464.2,331.3h0.01M463.2,338.9h0.01M447.7,335.9h0.01M459.8,336.6h0.01M453.4,334.8h0.01M450.9,330.2h0.01M453.6,338.5h0.01M452.3,334.8h0.01M453.9,327.3h0.01M454.8,333.5h0.01M449.6,333.4h0.01M449.6,326.6h0.01M454.7,329.4h0.01M448.1,323.2h0.01M453.6,331.6h0.01M451.0,331.3h0.01M445.1,332.3h0.01M455.8,331.8h0.01M450.1,330.9h0.01M454.2,335.3h0.01M455.0,331.6h0.01M449.5,334.4h0.01M459.9,328.3h0.01M457.0,331.9h0.01M453.2,324.7h0.01M463.2,322.1h0.01M455.2,328.8h0.01M459.8,328.6h0.01M453.7,333.2h0.01M456.0,328.2h0.01M457.2,332.3h0.01M458.9,328.2h0.01M453.2,328.7h0.01M448.9,331.6h0.01M455.7,336.9h0.01M451.7,332.2h0.01M459.8,330.0h0.01M453.8,331.1h0.01M449.7,326.1h0.01M459.6,331.3h0.01M453.1,324.9h0.01M454.1,335.8h0.01M447.2,326.5h0.01M459.6,336.9h0.01M462.0,328.0h0.01M456.8,327.1h0.01M456.4,328.9h0.01M454.6,336.5h0.01M455.4,329.4h0.01M453.8,331.7h0.01M450.7,331.4h0.01M456.8,337.5h0.01M442.2,325.2h0.01M446.7,334.4h0.01M466.8,331.4h0.01" stroke="#1a1a1a" stroke-width="0.8" stroke-linecap="round" fill="none"/>
<path d="M453.2,338.9h0.01M427.7,330.3h0.01M446.9,328.4h0.01M455.4,327.7h0.01M463.0,331.5h0.01M455.8,347.9h0.01M447.5,337.5h0.01M443.8,339.6h0.01M461.6,332.4h0.01M461.8,341.9h0.01M465.7,331.5h0.01M451.5,338.6h0.01M437.4,327.6h0.01M456.8,335.2h0.01M470.5,342.8h0.01M455.2,334.3h0.01M438.9,330.3h0.01M454.6,330.0h0.01M452.6,335.4h0.01M442.6,327.8h0.01M434.4,338.9h0.01M441.6,320.5h0.01M459.6,330.1h0.01M461.6,329.1h0.01M473.0,336.1h0.01M453.5,332.2h0.01M450.0,336.7h0.01M471.8,328.8h0.01M441.2,335.3h0.01M462.6,321.9h0.01M445.2,325.1h0.01M457.6,334.7h0.01M444.7,324.3h0.01M458.7,318.3h0.01M458.4,330.5h0.01M471.0,337.9h0.01M446.3,329.7h0.01M449.3,326.8h0.01M452.8,337.7h0.01M437.1,330.0h0.01M466.7,336.3h0.01M444.0,326.3h0.01M443.6,321.2h0.01M463.3,331.9h0.01M445.1,322.3h0.01M448.2,328.2h0.01M469.0,328.6h0.01M453.1,338.4h0.01M458.6,330.3h0.01M430.5,340.5h0.01M457.9,328.7h0.01M451.1,325.4h0.01M443.2,322.0h0.01M456.9,334.8h0.01M453.7,336.5h0.01M457.3,332.3h0.01M443.3,335.3h0.01M463.7,335.5h0.01M464.3,328.5h0.01M442.4,339.5h0.01M446.3,333.1h0.01M450.1,331.6h0.01M449.3,328.1h0.01M434.5,343.7h0.01M454.0,319.2h0.01M443.1,324.3h0.01M444.7,315.2h0.01M457.6,342.0h0.01M449.6,336.2h0.01M457.9,323.6h0.01M464.0,320.8h0.01M446.4,329.2h0.01M464.3,332.3h0.01M450.8,326.4h0.01M452.9,331.8h0.01M459.2,340.4h0.01M459.2,331.6h0.01M450.5,341.7h0.01M454.0,331.4h0.01M469.6,341.5h0.01M457.6,330.8h0.01M445.8,338.3h0.01M447.6,337.6h0.01M444.3,332.2h0.01M455.9,332.4h0.01M454.3,333.9h0.01M441.0,324.4h0.01M450.6,343.0h0.01M450.8,325.6h0.01M445.5,331.7h0.01M463.6,327.9h0.01M457.5,332.7h0.01M448.5,325.5h0.01M450.5,326.9h0.01M457.3,320.3h0.01M463.0,336.3h0.01M457.7,341.0h0.01M457.9,320.7h0.01M452.5,334.4h0.01M445.3,324.3h0.01M456.2,334.7h0.01M447.8,330.0h0.01M447.1,327.9h0.01M451.4,338.3h0.01M436.3,329.3h0.01M467.8,333.5h0.01M453.5,336.8h0.01M442.2,323.8h0.01M435.8,322.3h0.01M454.4,336.9h0.01M447.9,327.2h0.01M455.9,335.4h0.01M454.5,319.4h0.01M446.7,315.5h0.01M454.4,326.1h0.01M445.6,341.0h0.01M464.9,334.6h0.01M454.7,332.6h0.01M446.3,331.2h0.01M470.6,326.0h0.01M445.6,332.5h0.01M460.7,336.8h0.01M442.6,330.7h0.01M449.4,323.7h0.01M452.8,328.5h0.01M461.0,334.2h0.01M444.4,332.0h0.01M448.5,327.5h0.01M447.3,338.2h0.01M448.0,320.7h0.01M444.5,336.6h0.01M472.9,324.8h0.01M448.5,329.4h0.01M438.3,334.0h0.01M451.5,333.3h0.01M473.8,329.8h0.01M459.7,336.8h0.01M445.8,327.8h0.01M467.1,336.0h0.01M453.4,324.6h0.01M460.6,334.8h0.01M473.4,340.8h0.01M459.8,333.2h0.01M452.6,328.0h0.01M455.0,333.0h0.01M458.3,338.4h0.01M455.0,328.1h0.01M459.9,341.3h0.01M443.9,334.2h0.01M457.3,334.9h0.01M456.9,330.9h0.01M451.0,342.2h0.01M468.8,322.6h0.01M427.3,334.3h0.01M445.4,328.2h0.01M436.5,333.7h0.01M451.5,328.1h0.01M460.7,346.9h0.01M466.3,338.9h0.01M448.0,335.7h0.01M451.6,338.8h0.01M457.7,331.3h0.01M457.4,327.0h0.01M459.7,341.0h0.01M448.5,335.0h0.01M435.8,337.4h0.01M460.5,325.1h0.01M468.9,332.2h0.01M435.2,322.9h0.01M460.5,329.8h0.01M462.7,321.7h0.01M451.0,337.7h0.01M445.4,335.8h0.01M448.5,333.7h0.01M455.1,345.6h0.01M440.0,336.4h0.01M464.8,324.4h0.01M452.8,346.1h0.01M462.2,312.8h0.01M449.7,320.7h0.01M454.9,326.9h0.01M446.5,326.2h0.01M454.9,328.6h0.01M443.2,330.1h0.01M456.0,326.1h0.01M462.8,321.0h0.01M456.0,329.0h0.01M467.3,327.4h0.01M445.6,323.0h0.01M471.3,335.4h0.01M441.5,329.4h0.01M442.7,341.1h0.01M456.1,318.6h0.01M454.0,337.3h0.01M452.0,334.5h0.01M450.9,332.8h0.01M454.1,327.0h0.01M455.4,332.5h0.01M451.6,327.2h0.01M442.1,333.1h0.01" stroke="#1a1a1a" stroke-width="0.8" stroke-linecap="round" fill="none"/>
<path d="M464.4,291.2h0.01M465.1,304.5h0.01M468.5,302.3h0.01M454.6,308.3h0.01M445.2,302.1h0.01M448.9,308.9h0.01M443.7,318.3h0.01M455.2,305.3h0.01M453.1,315.8h0.01M469.9,306.8h0.01M468.4,312.3h0.01M446.4,315.2h0.01M454.8,311.5h0.01M443.3,307.8h0.01M459.8,302.7h0.01M459.8,304.7h0.01M476.6,293.2h0.01M450.8,313.2h0.01M453.4,292.1h0.01M460.0,316.5h0.01M461.9,319.3h0.01M446.1,310.0h0.01M468.3,310.0h0.01M459.4,305.1h0.01M466.6,304.6h0.01M459.0,293.9h0.01M458.5,311.7h0.01M440.9,309.7h0.01M474.1,298.3h0.01M439.5,308.7h0.01M453.9,308.4h0.01M448.2,299.4h0.01M448.4,315.0h0.01M457.6,316.4h0.01M449.6,314.6h0.01M454.5,310.7h0.01M465.3,310.3h0.01M455.3,297.0h0.01M458.5,316.1h0.01M453.1,309.5h0.01M444.2,299.6h0.01M455.6,296.9h0.01M455.0,297.8h0.01M460.3,308.8h0.01M466.1,307.0h0.01" stroke="#555" stroke-width="0.72" stroke-linecap="round" fill="none"/>
<path d="M455.2,336.8h0.01M457.0,322.0h0.01M461.1,342.8h0.01M436.0,348.2h0.01M450.3,341.0h0.01M458.7,342.8h0.01M440.0,329.8h0.01M455.9,340.4h0.01M459.0,338.0h0.01M442.4,344.8h0.01M457.4,344.4h0.01M439.5,336.1h0.01M442.5,332.3h0.01M453.0,338.1h0.01M437.7,339.8h0.01M436.7,338.8h0.01M444.2,326.6h0.01M468.4,349.7h0.01M448.4,334.6h0.01M465.1,323.2h0.01M436.2,345.1h0.01M464.2,330.6h0.01M437.7,338.1h0.01M427.8,330.6h0.01M459.3,341.8h0.01M466.9,322.2h0.01M429.7,327.7h0.01M429.4,353.3h0.01M434.5,332.2h0.01M453.3,339.1h0.01M473.0,325.3h0.01M463.9,336.3h0.01M431.4,336.3h0.01M427.8,349.5h0.01M438.4,344.0h0.01M470.6,329.5h0.01M435.8,336.2h0.01M433.4,343.0h0.01M452.8,328.2h0.01M439.1,341.5h0.01M427.0,350.1h0.01M437.5,333.2h0.01M435.3,349.5h0.01M463.1,346.6h0.01M460.4,335.8h0.01M477.0,340.9h0.01M456.9,340.2h0.01M461.7,337.5h0.01M447.3,320.7h0.01M482.8,323.4h0.01M480.8,345.9h0.01M440.4,337.4h0.01M444.7,337.6h0.01M468.7,324.2h0.01M455.3,335.7h0.01M452.4,336.3h0.01M444.2,322.7h0.01M457.2,338.5h0.01M459.2,346.2h0.01M435.4,338.6h0.01M449.8,341.5h0.01M501.3,330.4h0.01M447.3,329.6h0.01M453.9,339.7h0.01M434.5,346.8h0.01M468.3,339.0h0.01M448.2,332.9h0.01M434.4,330.5h0.01M465.9,326.7h0.01M441.7,342.7h0.01M479.7,328.8h0.01M467.7,329.1h0.01M456.2,339.4h0.01M431.8,344.2h0.01M478.8,335.5h0.01M454.3,324.5h0.01M478.6,335.6h0.01M429.6,341.9h0.01M426.6,328.8h0.01M485.4,329.3h0.01M439.5,329.8h0.01M441.0,340.0h0.01M473.3,325.9h0.01M474.4,334.2h0.01M438.8,348.8h0.01M448.3,347.3h0.01M467.2,349.9h0.01M437.2,335.5h0.01M455.9,333.3h0.01M474.4,328.6h0.01" stroke="#333" stroke-width="0.8" stroke-linecap="round" fill="none"/>
<path d="M426.0,342.8h0.01M426.7,351.4h0.01M426.7,323.3h0.01M427.3,303.4h0.01M427.0,304.3h0.01M426.2,305.0h0.01M427.2,324.1h0.01M427.0,313.3h0.01M427.0,336.3h0.01M426.0,327.2h0.01M427.0,310.8h0.01M426.8,314.6h0.01M426.4,352.1h0.01M427.3,356.7h0.01M426.5,331.7h0.01M427.1,342.7h0.01M426.5,348.8h0.01M426.4,353.9h0.01M426.6,305.2h0.01M427.0,306.8h0.01M426.9,301.4h0.01M427.4,329.9h0.01M427.0,306.0h0.01M426.8,320.3h0.01M426.2,346.0h0.01M425.9,326.3h0.01M425.9,348.1h0.01M427.2,300.3h0.01M426.5,325.7h0.01M426.9,341.0h0.01M426.3,352.9h0.01M426.1,306.3h0.01M427.1,305.3h0.01M426.1,327.6h0.01M426.3,307.9h0.01M427.3,326.0h0.01M427.1,312.9h0.01M427.3,311.2h0.01M427.3,334.2h0.01M427.4,343.4h0.01M426.8,329.5h0.01M427.2,324.2h0.01M426.0,351.8h0.01M427.1,338.2h0.01M427.0,311.9h0.01" stroke="#555" stroke-width="0.8" stroke-linecap="round" fill="none"/>
<path d="M450.4,356.5h0.01M477.0,356.7h0.01M434.3,356.3h0.01M455.3,355.8h0.01M434.7,355.4h0.01M450.8,356.0h0.01M440.0,355.8h0.01M455.3,356.4h0.01M457.2,355.5h0.01M472.9,355.8h0.01M476.9,356.8h0.01M433.3,356.1h0.01M477.2,355.8h0.01M454.9,355.7h0.01M427.3,355.5h0.01M432.4,355.7h0.01M459.3,356.1h0.01M476.2,356.3h0.01M445.1,356.7h0.01M459.5,356.1h0.01M471.7,356.3h0.01M445.0,356.2h0.01M441.8,356.8h0.01M438.8,356.8h0.01M429.2,355.2h0.01M455.2,355.5h0.01M452.8,355.4h0.01M470.3,356.3h0.01M462.2,356.7h0.01M478.6,356.3h0.01M463.7,355.2h0.01M428.4,355.9h0.01M477.4,355.7h0.01M456.0,355.2h0.01M447.9,356.6h0.01M457.2,356.5h0.01M426.5,355.5h0.01M435.3,356.5h0.01M431.2,356.7h0.01M440.0,356.6h0.01M453.2,355.7h0.01M477.2,355.8h0.01M462.9,355.3h0.01M470.0,356.8h0.01M431.7,356.4h0.01M440.2,355.4h0.01M445.2,356.3h0.01M476.5,356.8h0.01M478.7,356.2h0.01M460.6,355.5h0.01M464.4,356.1h0.01M444.9,356.6h0.01M439.4,355.4h0.01M434.2,355.4h0.01M457.1,356.5h0.01" stroke="#555" stroke-width="0.8" stroke-linecap="round" fill="none"/>
<line x1="425.8" y1="278.3" x2="425.8" y2="356.8" stroke="#c4c4c4" stroke-width="0.7" />
<line x1="425.8" y1="356.8" x2="504" y2="356.8" stroke="#a8a8a8" stroke-width="0.8" />
<line x1="504" y1="278.3" x2="504" y2="356.8" stroke="#777" stroke-width="0.9" />
<line x1="425.40000000000003" y1="278.3" x2="504.4" y2="278.3" stroke="#1a1a1a" stroke-width="1.3" />
<line x1="425.8" y1="297.925" x2="427.0" y2="297.925" stroke="#999" stroke-width="0.6" />
<line x1="445.35" y1="355.6" x2="445.35" y2="356.8" stroke="#999" stroke-width="0.6" />
<line x1="425.8" y1="317.55" x2="427.0" y2="317.55" stroke="#999" stroke-width="0.6" />
<line x1="464.9" y1="355.6" x2="464.9" y2="356.8" stroke="#999" stroke-width="0.6" />
<line x1="425.8" y1="337.175" x2="427.0" y2="337.175" stroke="#999" stroke-width="0.6" />
<line x1="484.45" y1="355.6" x2="484.45" y2="356.8" stroke="#999" stroke-width="0.6" />
<line x1="452.5" y1="278.3" x2="452.5" y2="356.8" stroke="#111" stroke-width="1.3" />
<line x1="425.8" y1="320.4" x2="504" y2="320.4" stroke="#111" stroke-width="1.3" />
<text x="429.5" y="288.8" font-size="9.4" text-anchor="start" fill="#000" font-weight="bold" >1.1</text>
<text x="497.8" y="288.8" font-size="9.4" text-anchor="end" fill="#000" font-weight="bold" >4.4</text>
<text x="496.3" y="348.5" font-size="9.4" text-anchor="end" fill="#000" font-weight="bold" >52</text>
<text transform="translate(338.4,317.8) rotate(-90)" font-size="8.8" text-anchor="middle" fill="#000" font-weight="bold">IFN<tspan font-size="7.2" dy="0.8">&#947;</tspan></text>
<line x1="344.5" y1="366" x2="455" y2="366" stroke="#000" stroke-width="1.3" />
<polygon points="453,363.2 460,366 453,368.8" fill="#000"/>
<text x="468.3" y="370" font-size="8.7" text-anchor="start" fill="#000" font-weight="bold" >PD1</text>
<text x="2.1" y="391" font-size="14.2" text-anchor="start" fill="#000" font-weight="bold" >E</text>
<text x="32" y="405" font-size="9" text-anchor="start" fill="#000" font-weight="bold" >na&#239;ve control</text>
<text x="126.2" y="387.9" font-size="9.04" text-anchor="start" fill="#000" font-weight="bold" >Host CD8 T cells</text>
<line x1="112.4" y1="393" x2="212.8" y2="393" stroke="#000" stroke-width="1.4" />
<text x="119.6" y="404.6" font-size="9" text-anchor="start" fill="#000" font-weight="bold" >cure</text>
<text x="177.9" y="404.6" font-size="8.9" text-anchor="start" fill="#000" font-weight="bold" >relapse</text>
<clipPath id="c1"><rect x="26" y="408.5" width="65.3" height="64.30000000000001"/></clipPath><g clip-path="url(#c1)">
<path d="M27.0,460.0 Q27.0,446.0 28.5,444.5 Q30.0,443.0 31.5,441.0 Q33.0,439.0 35.5,437.8 Q38.0,436.5 40.5,436.0 Q43.0,435.5 46.0,436.0 Q49.0,436.5 51.5,437.5 Q54.0,438.5 55.8,440.2 Q57.5,442.0 57.8,445.0 Q58.0,448.0 57.0,451.5 Q56.0,455.0 55.2,459.0 Q54.5,463.0 54.2,468.5 Q54.0,474.0 40.5,474.0 Q27.0,474.0 27.0,460.0Z" fill="#e4e4e4" stroke="none"/>
<path d="M27.2,460.0 Q27.4,446.0 28.7,444.5 Q30.0,443.1 31.3,441.0 Q32.7,439.0 35.4,437.9 Q38.1,436.8 40.4,436.0 Q42.6,435.3 45.6,436.1 Q48.6,436.8 51.4,437.4 Q54.2,438.0 56.1,440.3 Q58.0,442.5 58.1,445.3 Q58.2,448.1 56.9,451.3 Q55.7,454.5 55.1,458.5 Q54.5,462.6 54.1,468.2 Q53.7,473.7 40.3,473.9 Q27.0,474.1 27.2,460.0Z" fill="none" stroke="rgb(160,160,160)" stroke-width="0.65"/>
<path d="M28.6,459.7 Q28.8,447.6 30.2,446.2 Q31.5,444.8 32.8,443.0 Q34.1,441.3 36.3,440.0 Q38.5,438.7 40.9,438.7 Q43.4,438.6 45.9,438.9 Q48.5,439.2 50.4,439.8 Q52.3,440.4 53.8,441.9 Q55.3,443.3 55.8,446.1 Q56.3,448.9 55.4,452.0 Q54.6,455.0 54.0,458.7 Q53.4,462.5 52.7,467.0 Q52.0,471.4 40.2,471.6 Q28.4,471.7 28.6,459.7Z" fill="none" stroke="rgb(149,149,149)" stroke-width="0.65"/>
<path d="M31.2,458.9 Q31.3,448.4 31.9,447.4 Q32.6,446.4 34.1,444.7 Q35.5,443.0 37.1,442.1 Q38.6,441.2 40.9,441.1 Q43.2,440.9 45.0,441.0 Q46.9,441.1 48.7,441.8 Q50.6,442.5 52.2,443.8 Q53.9,445.2 54.0,447.6 Q54.0,450.0 53.1,452.7 Q52.2,455.5 51.6,458.4 Q51.0,461.4 50.8,465.4 Q50.6,469.4 40.9,469.4 Q31.2,469.4 31.2,458.9Z" fill="none" stroke="rgb(138,138,138)" stroke-width="0.65"/>
<path d="M32.7,458.5 Q33.1,450.1 33.7,449.2 Q34.3,448.3 35.2,446.8 Q36.1,445.3 38.0,444.7 Q39.9,444.0 41.0,443.9 Q42.2,443.7 44.1,443.7 Q46.1,443.6 47.9,444.3 Q49.7,444.9 50.6,445.9 Q51.5,446.9 51.5,449.0 Q51.6,451.1 51.0,453.3 Q50.5,455.5 50.1,457.9 Q49.7,460.3 49.8,463.8 Q49.9,467.2 41.2,467.1 Q32.4,467.0 32.7,458.5Z" fill="none" stroke="rgb(127,127,127)" stroke-width="0.65"/>
<path d="M34.4,458.0 Q34.2,450.7 35.3,450.3 Q36.4,449.9 36.9,448.5 Q37.3,447.2 38.8,447.0 Q40.3,446.7 41.2,446.5 Q42.2,446.3 44.0,446.3 Q45.9,446.4 46.9,446.7 Q47.9,446.9 48.6,448.2 Q49.2,449.5 49.5,450.9 Q49.7,452.2 49.2,454.0 Q48.7,455.8 48.5,457.6 Q48.3,459.3 48.0,462.2 Q47.6,465.2 41.1,465.2 Q34.6,465.3 34.4,458.0Z" fill="none" stroke="rgb(117,117,117)" stroke-width="0.65"/>
<path d="M36.2,457.5 Q36.5,452.6 37.1,451.8 Q37.7,451.0 38.4,450.2 Q39.1,449.4 39.6,449.0 Q40.0,448.5 41.2,448.2 Q42.3,447.9 43.3,448.3 Q44.3,448.6 45.4,448.9 Q46.5,449.1 47.1,450.2 Q47.6,451.2 48.0,452.2 Q48.4,453.2 47.9,454.4 Q47.4,455.7 46.8,456.9 Q46.3,458.1 46.1,460.6 Q46.0,463.1 41.0,462.8 Q36.0,462.4 36.2,457.5Z" fill="none" stroke="rgb(106,106,106)" stroke-width="0.65"/>
<path d="M38.2,457.3 Q37.8,453.7 38.4,453.4 Q39.0,453.0 39.3,452.7 Q39.6,452.3 40.1,451.8 Q40.6,451.3 41.5,451.3 Q42.5,451.4 43.2,451.4 Q44.0,451.4 44.6,451.8 Q45.2,452.1 45.5,452.4 Q45.7,452.7 46.0,453.6 Q46.3,454.4 45.8,455.2 Q45.4,456.0 45.4,456.9 Q45.4,457.8 45.3,459.0 Q45.1,460.3 41.8,460.6 Q38.5,460.9 38.2,457.3Z" fill="none" stroke="rgb(95,95,95)" stroke-width="0.65"/>
<path d="M40.0,456.6 Q39.8,454.9 40.4,454.9 Q41.1,454.8 41.1,454.3 Q41.1,453.8 41.5,453.8 Q41.8,453.7 41.9,453.8 Q42.1,453.9 42.2,453.9 Q42.4,453.9 42.7,454.0 Q43.0,454.0 43.4,454.0 Q43.8,454.1 44.0,454.5 Q44.1,455.0 44.0,455.7 Q43.8,456.3 43.5,456.3 Q43.3,456.4 43.2,457.3 Q43.2,458.3 41.8,458.3 Q40.3,458.3 40.0,456.6Z" fill="none" stroke="rgb(85,85,85)" stroke-width="0.65"/>
<path d="M41.3,464.7 Q41.0,467.3 39.3,469.1 Q37.6,470.9 36.0,470.7 Q34.5,470.6 32.8,468.8 Q31.2,467.0 30.3,464.4 Q29.5,461.9 30.4,459.1 Q31.2,456.3 32.8,454.7 Q34.4,453.2 36.0,453.1 Q37.6,453.0 39.5,455.0 Q41.4,456.9 41.5,459.6 Q41.7,462.2 41.3,464.7Z" fill="none" stroke="rgb(120,120,120)" stroke-width="0.6"/>
<path d="M39.5,463.7 Q38.7,465.3 37.9,466.2 Q37.2,467.2 36.2,467.3 Q35.2,467.4 33.9,466.6 Q32.5,465.8 32.1,464.1 Q31.7,462.4 32.3,460.5 Q32.8,458.6 33.7,457.5 Q34.6,456.4 35.8,456.2 Q36.9,456.0 38.2,457.1 Q39.5,458.3 39.9,460.2 Q40.3,462.1 39.5,463.7Z" fill="none" stroke="rgb(90,90,90)" stroke-width="0.6"/>
<path d="M38.0,462.8 Q37.9,464.0 37.4,464.4 Q36.8,464.8 36.2,464.8 Q35.5,464.8 34.8,464.2 Q34.2,463.6 34.3,462.6 Q34.5,461.7 34.7,461.3 Q35.0,460.8 35.2,460.0 Q35.4,459.3 35.9,459.3 Q36.5,459.3 37.2,459.8 Q38.0,460.3 38.0,461.0 Q38.1,461.7 38.0,462.8Z" fill="none" stroke="rgb(60,60,60)" stroke-width="0.6"/>
<path d="M48.5,447.8 Q47.6,450.0 46.4,450.7 Q45.2,451.3 43.9,451.4 Q42.6,451.6 41.5,450.4 Q40.3,449.3 39.9,447.5 Q39.5,445.8 39.8,444.4 Q40.1,442.9 41.3,441.8 Q42.6,440.7 44.2,440.3 Q45.8,439.8 47.1,441.2 Q48.4,442.6 48.9,444.1 Q49.5,445.6 48.5,447.8Z" fill="none" stroke="rgb(120,120,120)" stroke-width="0.6"/>
<path d="M47.0,447.0 Q47.0,448.4 46.2,449.2 Q45.4,450.0 44.4,449.9 Q43.5,449.8 42.5,449.1 Q41.6,448.4 41.0,447.4 Q40.5,446.5 40.8,445.2 Q41.2,444.0 42.3,443.2 Q43.5,442.4 44.0,442.5 Q44.6,442.6 45.7,443.0 Q46.8,443.4 46.9,444.5 Q47.1,445.7 47.0,447.0Z" fill="none" stroke="rgb(90,90,90)" stroke-width="0.6"/>
<path d="M44.9,446.8 Q44.7,447.5 44.6,447.6 Q44.5,447.7 44.0,447.8 Q43.4,447.9 43.3,447.4 Q43.2,446.9 42.8,446.5 Q42.4,446.1 42.5,445.6 Q42.6,445.0 43.1,444.6 Q43.6,444.2 44.1,444.3 Q44.6,444.3 44.7,444.9 Q44.8,445.4 44.9,445.7 Q45.0,446.0 44.9,446.8Z" fill="none" stroke="rgb(60,60,60)" stroke-width="0.6"/>
<path d="M57.0,449.4 Q56.6,451.3 55.5,452.9 Q54.3,454.5 53.1,454.4 Q51.8,454.2 50.6,452.9 Q49.5,451.6 49.1,449.3 Q48.7,447.0 49.0,444.4 Q49.3,441.9 50.6,440.6 Q52.0,439.3 53.1,439.5 Q54.2,439.6 55.2,440.7 Q56.1,441.9 56.8,444.7 Q57.4,447.4 57.0,449.4Z" fill="none" stroke="rgb(140,140,140)" stroke-width="0.6"/>
<path d="M55.6,448.6 Q55.3,450.2 54.8,451.0 Q54.3,451.8 53.4,451.8 Q52.5,451.8 51.7,451.0 Q51.0,450.2 50.6,448.4 Q50.2,446.6 50.5,445.4 Q50.9,444.2 51.6,443.1 Q52.3,442.0 53.1,441.9 Q53.9,441.7 54.4,442.8 Q54.8,443.8 55.3,445.4 Q55.9,447.1 55.6,448.6Z" fill="none" stroke="rgb(115,115,115)" stroke-width="0.6"/>
<path d="M54.1,447.4 Q53.6,448.0 53.2,448.5 Q52.9,449.1 52.8,449.3 Q52.7,449.6 52.3,448.9 Q51.9,448.3 51.7,447.5 Q51.6,446.8 51.9,446.2 Q52.3,445.6 52.3,445.0 Q52.4,444.3 53.0,444.6 Q53.7,444.9 54.0,445.1 Q54.3,445.3 54.4,446.0 Q54.5,446.7 54.1,447.4Z" fill="none" stroke="rgb(90,90,90)" stroke-width="0.6"/>
<path d="M44.6,443 L44.8,452" stroke="#fff" stroke-width="1.1" fill="none" stroke-opacity="0.85"/>
<path d="M54.6,455.1h0.01M61.2,457.1h0.01M58.6,456.5h0.01M52.2,440.0h0.01M58.8,446.0h0.01M64.1,446.2h0.01M65.2,446.2h0.01M53.5,454.2h0.01M58.2,449.4h0.01M64.2,445.6h0.01M62.7,466.4h0.01M59.2,455.1h0.01M66.8,458.5h0.01M54.9,440.4h0.01M53.3,449.3h0.01M53.4,460.1h0.01M58.8,448.5h0.01M60.2,469.8h0.01M55.9,443.3h0.01M56.9,449.0h0.01M66.6,462.0h0.01M58.9,443.6h0.01M52.7,442.2h0.01M65.6,460.0h0.01M54.5,459.3h0.01M52.9,455.2h0.01M57.4,441.5h0.01M63.9,462.4h0.01M60.2,443.7h0.01M62.7,452.7h0.01M62.6,441.1h0.01M66.4,438.1h0.01M55.6,451.5h0.01M55.2,441.0h0.01M63.0,471.8h0.01" stroke="#aaa" stroke-width="0.64" stroke-linecap="round" fill="none"/>
<rect x="26" y="440" width="2.2" height="33" fill="#6e6e6e"/>
<rect x="46.2" y="441" width="2.6" height="32" fill="#5a5a5a"/>
<path d="M26,473 L26,469.6 L40,470.4 L52,470.8 L56,472 L56,473Z" fill="#111"/>
</g>
<line x1="26" y1="408.5" x2="26" y2="472.8" stroke="#b4b4b4" stroke-width="0.8" />
<line x1="26" y1="472.8" x2="91.3" y2="472.8" stroke="#9a9a9a" stroke-width="0.8" />
<line x1="91.3" y1="408.5" x2="91.3" y2="472.8" stroke="#7a7a7a" stroke-width="0.9" />
<line x1="25.6" y1="408.5" x2="91.7" y2="408.5" stroke="#222" stroke-width="1.2" />
<line x1="26" y1="424.575" x2="27.2" y2="424.575" stroke="#999" stroke-width="0.6" />
<line x1="42.325" y1="471.6" x2="42.325" y2="472.8" stroke="#999" stroke-width="0.6" />
<line x1="26" y1="440.65" x2="27.2" y2="440.65" stroke="#999" stroke-width="0.6" />
<line x1="58.65" y1="471.6" x2="58.65" y2="472.8" stroke="#999" stroke-width="0.6" />
<line x1="26" y1="456.725" x2="27.2" y2="456.725" stroke="#999" stroke-width="0.6" />
<line x1="74.975" y1="471.6" x2="74.975" y2="472.8" stroke="#999" stroke-width="0.6" />
<line x1="49.3" y1="408.5" x2="49.3" y2="472.8" stroke="#111" stroke-width="1.5" />
<line x1="26" y1="452.6" x2="88" y2="452.6" stroke="#111" stroke-width="1.5" />
<text x="30.5" y="420" font-size="9.2" text-anchor="start" fill="#000" font-weight="bold" >31</text>
<text x="86.4" y="420" font-size="9.2" text-anchor="end" fill="#000" font-weight="bold" >2.3</text>
<text x="83.5" y="465.6" font-size="9.2" text-anchor="end" fill="#000" font-weight="bold" >1</text>
<clipPath id="c2"><rect x="95.4" y="408.5" width="63.79999999999998" height="64.30000000000001"/></clipPath><g clip-path="url(#c2)">
<path d="M95.0,456.0 Q95.0,438.0 96.5,437.0 Q98.0,436.0 99.0,438.0 Q100.0,440.0 101.5,438.0 Q103.0,436.0 105.0,434.8 Q107.0,433.5 109.5,433.2 Q112.0,433.0 114.5,433.8 Q117.0,434.5 119.0,435.8 Q121.0,437.0 121.5,441.5 Q122.0,446.0 122.0,460.0 Q122.0,474.0 108.5,474.0 Q95.0,474.0 95.0,456.0Z" fill="#cbcbcb" stroke="none"/>
<path d="M95.3,456.1 Q95.5,438.4 96.7,437.3 Q98.0,436.2 98.8,437.9 Q99.7,439.7 101.3,438.0 Q102.8,436.2 104.8,435.1 Q106.7,434.0 109.1,433.3 Q111.6,432.7 114.1,433.7 Q116.6,434.8 118.7,435.9 Q120.9,437.0 121.3,441.6 Q121.8,446.1 121.9,459.9 Q121.9,473.7 108.5,473.7 Q95.1,473.7 95.3,456.1Z" fill="none" stroke="rgb(140,140,140)" stroke-width="0.7"/>
<path d="M95.8,456.1 Q95.7,439.8 97.3,438.8 Q99.0,437.8 100.0,439.5 Q101.0,441.2 102.2,439.3 Q103.3,437.5 105.1,436.5 Q107.0,435.5 109.1,435.1 Q111.2,434.8 113.8,435.4 Q116.3,436.1 117.9,437.4 Q119.5,438.7 119.9,442.8 Q120.4,446.9 120.5,459.5 Q120.5,472.1 108.3,472.2 Q96.0,472.4 95.8,456.1Z" fill="none" stroke="rgb(132,132,132)" stroke-width="0.7"/>
<path d="M96.7,455.9 Q96.7,441.1 98.3,440.1 Q99.8,439.1 100.6,440.8 Q101.4,442.5 102.6,441.1 Q103.8,439.6 105.4,438.5 Q107.0,437.5 109.3,437.2 Q111.6,436.9 113.3,437.2 Q115.1,437.5 116.8,438.7 Q118.5,439.9 119.3,443.9 Q120.2,448.0 120.2,459.4 Q120.1,470.7 108.4,470.7 Q96.8,470.7 96.7,455.9Z" fill="none" stroke="rgb(125,125,125)" stroke-width="0.7"/>
<path d="M98.4,456.3 Q98.4,442.6 99.2,441.5 Q100.0,440.5 101.1,442.3 Q102.2,444.1 103.4,442.4 Q104.6,440.7 106.1,439.6 Q107.6,438.5 109.6,438.7 Q111.5,438.9 113.1,439.1 Q114.7,439.2 116.3,440.5 Q117.9,441.7 118.2,444.9 Q118.5,448.0 118.5,459.0 Q118.4,470.0 108.4,470.0 Q98.3,470.0 98.4,456.3Z" fill="none" stroke="rgb(118,118,118)" stroke-width="0.7"/>
<path d="M98.8,456.1 Q98.9,443.5 99.9,443.2 Q100.8,442.9 101.9,443.9 Q103.0,444.9 103.6,443.7 Q104.2,442.6 106.0,441.4 Q107.7,440.2 109.3,440.5 Q110.9,440.7 112.5,441.1 Q114.1,441.4 115.6,442.1 Q117.1,442.8 117.2,446.1 Q117.3,449.4 117.4,458.8 Q117.6,468.3 108.2,468.5 Q98.8,468.7 98.8,456.1Z" fill="none" stroke="rgb(110,110,110)" stroke-width="0.7"/>
<path d="M100.0,456.3 Q100.0,445.4 101.2,444.6 Q102.4,443.9 102.6,445.0 Q102.8,446.1 103.7,444.9 Q104.6,443.6 105.8,443.0 Q107.0,442.3 108.6,442.2 Q110.3,442.1 111.9,442.7 Q113.6,443.3 114.8,443.9 Q116.0,444.5 116.3,447.3 Q116.6,450.0 116.3,458.4 Q116.0,466.8 108.0,467.0 Q100.0,467.2 100.0,456.3Z" fill="none" stroke="rgb(103,103,103)" stroke-width="0.7"/>
<path d="M101.3,456.0 Q101.5,446.4 102.1,446.0 Q102.7,445.6 103.2,446.4 Q103.6,447.2 104.3,446.7 Q104.9,446.1 106.3,445.2 Q107.7,444.2 109.0,444.0 Q110.2,443.8 111.6,444.5 Q112.9,445.3 114.0,445.7 Q115.0,446.1 115.4,448.7 Q115.8,451.2 115.3,458.2 Q114.8,465.3 107.9,465.4 Q101.1,465.5 101.3,456.0Z" fill="none" stroke="rgb(96,96,96)" stroke-width="0.7"/>
<path d="M102.3,455.7 Q102.4,447.7 103.1,447.6 Q103.8,447.6 103.9,448.4 Q104.0,449.2 104.8,448.2 Q105.6,447.3 106.7,447.0 Q107.8,446.6 108.9,446.1 Q110.1,445.7 111.1,446.0 Q112.2,446.2 113.1,446.9 Q113.9,447.6 113.9,449.4 Q113.9,451.3 113.9,457.8 Q113.9,464.2 108.1,464.0 Q102.2,463.7 102.3,455.7Z" fill="none" stroke="rgb(89,89,89)" stroke-width="0.7"/>
<path d="M103.0,455.7 Q103.0,449.2 103.8,449.0 Q104.6,448.9 105.0,449.8 Q105.3,450.6 105.7,449.5 Q106.1,448.3 106.7,448.1 Q107.3,447.9 108.5,448.0 Q109.7,448.1 110.5,448.1 Q111.3,448.0 112.0,448.8 Q112.8,449.6 112.8,451.2 Q112.9,452.8 113.2,457.7 Q113.4,462.6 108.2,462.4 Q102.9,462.2 103.0,455.7Z" fill="none" stroke="rgb(81,81,81)" stroke-width="0.7"/>
<path d="M104.2,455.6 Q104.0,450.5 104.6,450.6 Q105.3,450.6 105.8,451.1 Q106.3,451.6 106.7,451.0 Q107.1,450.3 107.2,449.8 Q107.4,449.3 108.1,449.4 Q108.9,449.6 110.0,449.7 Q111.0,449.8 111.2,450.3 Q111.4,450.9 111.6,452.1 Q111.8,453.3 111.7,457.3 Q111.6,461.4 108.0,461.0 Q104.3,460.7 104.2,455.6Z" fill="none" stroke="rgb(74,74,74)" stroke-width="0.7"/>
<path d="M105.8,456.0 Q105.8,452.2 105.7,452.0 Q105.5,451.8 106.2,452.3 Q106.8,452.8 106.7,452.2 Q106.7,451.7 107.1,451.5 Q107.5,451.4 108.3,451.6 Q109.2,451.8 109.6,451.9 Q110.1,452.0 110.2,452.2 Q110.3,452.5 110.4,453.3 Q110.5,454.0 110.4,457.0 Q110.3,460.0 108.1,459.9 Q105.8,459.9 105.8,456.0Z" fill="none" stroke="rgb(67,67,67)" stroke-width="0.7"/>
<path d="M106.3,456.1 Q106.6,454.0 106.8,453.7 Q107.0,453.5 107.2,454.0 Q107.3,454.5 107.4,454.3 Q107.5,454.1 107.9,453.5 Q108.2,452.9 108.4,452.8 Q108.7,452.8 108.9,453.1 Q109.2,453.3 109.6,453.3 Q109.9,453.3 110.0,453.8 Q110.1,454.3 109.7,456.0 Q109.2,457.7 107.7,458.0 Q106.1,458.3 106.3,456.1Z" fill="none" stroke="rgb(60,60,60)" stroke-width="0.7"/>
<path d="M108.3,461.5 Q107.9,464.9 106.8,466.7 Q105.7,468.5 104.3,468.4 Q102.9,468.2 101.6,466.3 Q100.3,464.4 99.7,461.4 Q99.2,458.5 99.7,455.1 Q100.3,451.6 101.5,449.4 Q102.8,447.1 104.1,447.5 Q105.5,447.9 106.9,449.7 Q108.3,451.5 108.4,454.8 Q108.6,458.1 108.3,461.5Z" fill="none" stroke="rgb(120,120,120)" stroke-width="0.6"/>
<path d="M107.2,460.2 Q107.0,462.5 106.3,464.2 Q105.6,466.0 104.2,465.8 Q102.9,465.5 101.8,464.1 Q100.8,462.8 100.3,460.3 Q99.9,457.8 100.4,455.6 Q100.8,453.4 102.0,451.5 Q103.2,449.7 104.0,450.1 Q104.8,450.5 105.7,451.7 Q106.5,452.9 107.0,455.4 Q107.5,457.8 107.2,460.2Z" fill="none" stroke="rgb(100,100,100)" stroke-width="0.6"/>
<path d="M106.2,459.8 Q105.7,461.5 105.4,462.1 Q105.0,462.7 104.2,462.9 Q103.4,463.1 102.7,462.2 Q102.0,461.3 101.8,459.8 Q101.7,458.3 101.7,456.4 Q101.7,454.5 102.3,453.5 Q102.9,452.5 104.0,452.8 Q105.1,453.1 105.5,454.0 Q105.9,455.0 106.2,456.5 Q106.6,458.0 106.2,459.8Z" fill="none" stroke="rgb(80,80,80)" stroke-width="0.6"/>
<path d="M105.4,459.0 Q105.3,459.7 105.0,460.1 Q104.7,460.4 104.2,460.4 Q103.7,460.4 103.3,459.9 Q102.9,459.5 102.8,458.5 Q102.7,457.5 102.8,456.9 Q102.9,456.4 103.5,456.0 Q104.0,455.6 104.0,455.4 Q104.0,455.3 104.7,455.6 Q105.3,456.0 105.4,457.2 Q105.5,458.4 105.4,459.0Z" fill="none" stroke="rgb(60,60,60)" stroke-width="0.6"/>
<path d="M117.0,445.0 Q116.4,447.0 115.5,448.0 Q114.6,449.0 113.1,449.0 Q111.6,449.0 110.6,447.8 Q109.6,446.6 108.8,444.8 Q108.1,443.0 109.0,441.2 Q109.8,439.5 110.7,438.5 Q111.5,437.4 112.8,437.3 Q114.0,437.1 115.5,438.3 Q116.9,439.4 117.2,441.3 Q117.5,443.1 117.0,445.0Z" fill="none" stroke="rgb(120,120,120)" stroke-width="0.6"/>
<path d="M115.6,444.4 Q115.4,445.2 114.4,446.0 Q113.5,446.8 112.8,446.6 Q112.1,446.5 111.6,446.0 Q111.1,445.4 110.6,444.4 Q110.1,443.4 110.3,442.3 Q110.5,441.2 111.4,440.2 Q112.3,439.2 113.1,439.5 Q113.9,439.8 114.7,440.0 Q115.5,440.2 115.6,441.8 Q115.8,443.5 115.6,444.4Z" fill="none" stroke="rgb(90,90,90)" stroke-width="0.6"/>
<path d="M114.3,443.5 Q113.9,444.0 113.5,444.5 Q113.1,444.9 112.9,444.8 Q112.7,444.7 112.3,444.3 Q111.9,443.9 111.9,443.6 Q111.8,443.3 111.7,442.7 Q111.5,442.1 112.2,441.9 Q112.9,441.8 113.3,441.8 Q113.7,441.7 114.0,442.0 Q114.2,442.3 114.5,442.6 Q114.7,442.9 114.3,443.5Z" fill="none" stroke="rgb(60,60,60)" stroke-width="0.6"/>
<path d="M114.5,444 L115.5,452" stroke="#fff" stroke-width="1.2" fill="none"/>
<path d="M121.7,431.9 Q124.5,431.0 127.4,431.3 Q130.3,431.7 133.0,431.3 Q135.6,430.9 139.0,432.0 Q142.3,433.1 143.8,434.4 Q145.4,435.6 144.6,438.3 Q143.8,440.9 141.9,441.7 Q140.0,442.5 138.2,444.4 Q136.4,446.3 133.5,447.1 Q130.6,447.9 128.6,449.2 Q126.6,450.6 124.1,450.6 Q121.6,450.6 120.0,450.6 Q118.5,450.6 118.7,441.6 Q119.0,432.7 121.7,431.9Z" fill="none" stroke="rgb(170,170,170)" stroke-width="0.6"/>
<path d="M123.7,434.2 Q125.6,433.3 127.9,433.7 Q130.2,434.2 132.6,433.1 Q135.0,432.0 137.3,432.8 Q139.6,433.7 141.3,435.6 Q143.0,437.4 142.2,438.9 Q141.5,440.3 139.6,441.5 Q137.7,442.7 136.5,444.0 Q135.4,445.4 133.0,446.1 Q130.6,446.7 128.8,447.5 Q127.0,448.3 125.0,448.5 Q122.9,448.7 122.2,448.6 Q121.4,448.5 121.6,441.8 Q121.7,435.2 123.7,434.2Z" fill="none" stroke="rgb(156,156,156)" stroke-width="0.6"/>
<path d="M125.0,435.5 Q126.8,435.2 128.2,435.5 Q129.6,435.8 131.9,435.1 Q134.1,434.3 136.0,434.7 Q137.9,435.0 139.0,436.0 Q140.2,437.1 139.8,439.2 Q139.4,441.2 138.0,441.6 Q136.5,441.9 135.6,443.4 Q134.6,444.9 133.1,445.0 Q131.5,445.1 129.9,445.8 Q128.2,446.4 127.2,446.6 Q126.1,446.9 124.6,446.8 Q123.1,446.7 123.2,441.3 Q123.2,435.9 125.0,435.5Z" fill="none" stroke="rgb(142,142,142)" stroke-width="0.6"/>
<path d="M126.8,437.1 Q128.1,436.0 129.5,436.6 Q130.9,437.2 131.7,436.8 Q132.5,436.3 134.4,436.3 Q136.2,436.3 137.2,437.7 Q138.1,439.1 137.3,440.2 Q136.5,441.3 136.0,441.1 Q135.4,440.8 133.9,442.1 Q132.4,443.3 131.5,443.5 Q130.6,443.6 129.7,444.1 Q128.9,444.6 127.7,444.6 Q126.5,444.7 126.1,444.4 Q125.7,444.2 125.6,441.2 Q125.4,438.1 126.8,437.1Z" fill="none" stroke="rgb(128,128,128)" stroke-width="0.6"/>
<path d="M128.3,439.2 Q129.2,439.0 130.0,438.9 Q130.8,438.8 131.5,438.2 Q132.1,437.5 133.3,437.8 Q134.5,438.1 134.3,438.7 Q134.1,439.3 134.4,439.8 Q134.8,440.2 133.8,440.3 Q132.8,440.5 132.9,441.6 Q133.0,442.8 132.2,442.6 Q131.3,442.4 130.4,443.0 Q129.4,443.6 129.1,443.5 Q128.8,443.4 128.2,442.9 Q127.6,442.4 127.4,440.8 Q127.3,439.3 128.3,439.2Z" fill="none" stroke="rgb(115,115,115)" stroke-width="0.6"/>
<path d="M122.5,453.6 Q125.6,453.7 127.6,454.9 Q129.6,456.2 131.3,458.1 Q133.1,460.1 132.0,462.6 Q130.9,465.1 129.7,466.8 Q128.4,468.4 127.9,470.1 Q127.3,471.7 123.2,471.7 Q119.1,471.6 119.2,462.5 Q119.3,453.5 122.5,453.6Z" fill="none" stroke="rgb(175,175,175)" stroke-width="0.6"/>
<path d="M122.1,455.4 Q124.4,456.0 126.3,456.5 Q128.3,456.9 129.3,458.6 Q130.4,460.4 129.8,462.5 Q129.2,464.6 128.1,465.8 Q127.1,466.9 127.1,468.2 Q127.1,469.5 123.5,469.1 Q119.9,468.7 119.8,461.8 Q119.8,454.8 122.1,455.4Z" fill="none" stroke="rgb(158,158,158)" stroke-width="0.6"/>
<path d="M123.4,457.3 Q124.8,457.3 126.2,458.1 Q127.7,458.9 128.2,459.7 Q128.8,460.5 128.5,462.4 Q128.3,464.3 127.8,464.5 Q127.3,464.8 126.3,466.3 Q125.3,467.7 123.7,467.5 Q122.0,467.2 122.0,462.2 Q122.0,457.2 123.4,457.3Z" fill="none" stroke="rgb(141,141,141)" stroke-width="0.6"/>
<path d="M123.9,459.2 Q124.9,459.4 125.6,459.5 Q126.4,459.6 126.9,460.5 Q127.3,461.4 127.1,461.8 Q126.8,462.2 126.4,463.2 Q126.1,464.1 125.4,464.4 Q124.6,464.8 123.8,464.7 Q123.0,464.6 122.9,461.8 Q122.9,459.0 123.9,459.2Z" fill="none" stroke="rgb(125,125,125)" stroke-width="0.6"/>
<rect x="95.4" y="435.5" width="2.5" height="38" fill="#5e5e5e"/>
<rect x="117" y="440" width="2.4" height="33" fill="#666"/>
<path d="M95.4,473 L95.4,469.8 L118,470.2 L132,471 L142,472.2 L142,473Z" fill="#111"/>
</g>
<line x1="95.4" y1="408.5" x2="95.4" y2="472.8" stroke="#b4b4b4" stroke-width="0.8" />
<line x1="95.4" y1="472.8" x2="159.2" y2="472.8" stroke="#9a9a9a" stroke-width="0.8" />
<line x1="159.2" y1="408.5" x2="159.2" y2="472.8" stroke="#7a7a7a" stroke-width="0.9" />
<line x1="95.0" y1="408.5" x2="159.6" y2="408.5" stroke="#222" stroke-width="1.2" />
<line x1="95.4" y1="424.575" x2="96.60000000000001" y2="424.575" stroke="#999" stroke-width="0.6" />
<line x1="111.35" y1="471.6" x2="111.35" y2="472.8" stroke="#999" stroke-width="0.6" />
<line x1="95.4" y1="440.65" x2="96.60000000000001" y2="440.65" stroke="#999" stroke-width="0.6" />
<line x1="127.3" y1="471.6" x2="127.3" y2="472.8" stroke="#999" stroke-width="0.6" />
<line x1="95.4" y1="456.725" x2="96.60000000000001" y2="456.725" stroke="#999" stroke-width="0.6" />
<line x1="143.25" y1="471.6" x2="143.25" y2="472.8" stroke="#999" stroke-width="0.6" />
<line x1="120" y1="408.5" x2="120" y2="472.8" stroke="#111" stroke-width="1.5" />
<line x1="95.4" y1="452.5" x2="157.2" y2="452.5" stroke="#111" stroke-width="1.5" />
<text x="97.4" y="420" font-size="9.2" text-anchor="start" fill="#000" font-weight="bold" >28</text>
<text x="155.8" y="420" font-size="9.2" text-anchor="end" fill="#000" font-weight="bold" >10</text>
<text x="155.8" y="466.6" font-size="9.2" text-anchor="end" fill="#000" font-weight="bold" >6.2</text>
<clipPath id="c3"><rect x="161.8" y="408.5" width="64.69999999999999" height="64.30000000000001"/></clipPath><g clip-path="url(#c3)">
<path d="M161.5,465.5 Q161.5,457.0 163.2,456.2 Q165.0,455.5 168.5,455.6 Q172.0,455.8 176.0,455.6 Q180.0,455.5 183.5,455.8 Q187.0,456.0 187.5,459.0 Q188.0,462.0 188.0,468.0 Q188.0,474.0 174.8,474.0 Q161.5,474.0 161.5,465.5Z" fill="#e4e4e4" stroke="none"/>
<path d="M161.0,465.3 Q161.0,456.8 163.1,456.2 Q165.3,455.7 168.6,455.9 Q172.0,456.1 176.0,456.0 Q180.0,455.9 183.5,455.8 Q187.1,455.6 187.6,458.8 Q188.1,462.0 188.1,467.8 Q188.0,473.7 174.6,473.8 Q161.1,473.8 161.0,465.3Z" fill="none" stroke="rgb(175,175,175)" stroke-width="0.6"/>
<path d="M163.8,465.3 Q163.6,458.1 165.0,457.4 Q166.5,456.7 169.8,457.1 Q173.0,457.5 176.0,457.3 Q179.1,457.1 182.1,457.4 Q185.1,457.6 185.7,460.1 Q186.3,462.6 186.5,467.9 Q186.6,473.1 175.3,472.8 Q164.0,472.5 163.8,465.3Z" fill="none" stroke="rgb(162,162,162)" stroke-width="0.6"/>
<path d="M165.9,465.6 Q165.6,459.7 167.1,459.3 Q168.6,459.0 171.2,458.7 Q173.8,458.5 176.4,458.6 Q179.0,458.8 181.5,459.1 Q184.0,459.4 184.1,461.2 Q184.3,463.1 184.7,467.6 Q185.1,472.1 175.7,471.8 Q166.2,471.4 165.9,465.6Z" fill="none" stroke="rgb(150,150,150)" stroke-width="0.6"/>
<path d="M168.4,465.5 Q168.4,460.8 169.4,460.4 Q170.5,460.0 172.2,460.2 Q173.9,460.4 176.4,460.2 Q179.0,460.1 180.8,460.3 Q182.7,460.5 182.9,461.9 Q183.2,463.3 183.1,467.1 Q183.0,470.9 175.7,470.5 Q168.3,470.2 168.4,465.5Z" fill="none" stroke="rgb(137,137,137)" stroke-width="0.6"/>
<path d="M170.8,465.7 Q171.0,461.8 171.7,461.7 Q172.3,461.6 173.4,461.6 Q174.4,461.5 176.3,461.6 Q178.2,461.6 179.9,461.7 Q181.5,461.7 181.7,463.0 Q181.8,464.3 181.9,467.0 Q182.0,469.8 176.3,469.7 Q170.6,469.6 170.8,465.7Z" fill="none" stroke="rgb(125,125,125)" stroke-width="0.6"/>
<path d="M172.5,465.9 Q172.5,463.4 173.3,463.3 Q174.2,463.1 174.7,463.0 Q175.2,462.8 176.7,463.2 Q178.3,463.6 179.2,463.4 Q180.1,463.2 179.9,464.1 Q179.7,465.1 179.6,466.7 Q179.5,468.2 176.0,468.3 Q172.5,468.5 172.5,465.9Z" fill="none" stroke="rgb(112,112,112)" stroke-width="0.6"/>
<path d="M175.1,465.7 Q175.4,464.7 175.7,464.8 Q176.0,464.9 176.3,464.9 Q176.5,464.9 176.8,465.1 Q177.1,465.2 177.4,465.2 Q177.7,465.2 178.0,465.4 Q178.4,465.6 178.4,466.2 Q178.4,466.8 176.6,466.7 Q174.8,466.6 175.1,465.7Z" fill="none" stroke="rgb(100,100,100)" stroke-width="0.6"/>
<path d="M164.5,458 L167.5,467 L171.5,459.5 L173,461" stroke="#fff" stroke-width="1.6" fill="none" stroke-opacity="0.8"/>
<path d="M161.8,473 L161.8,470 L187,470.2 L188.5,473Z" fill="#111"/>
<rect x="161.8" y="456" width="1.6" height="17" fill="#666"/>
</g>
<line x1="161.8" y1="408.5" x2="161.8" y2="472.8" stroke="#b4b4b4" stroke-width="0.8" />
<line x1="161.8" y1="472.8" x2="226.5" y2="472.8" stroke="#9a9a9a" stroke-width="0.8" />
<line x1="226.5" y1="408.5" x2="226.5" y2="472.8" stroke="#7a7a7a" stroke-width="0.9" />
<line x1="161.4" y1="408.5" x2="226.9" y2="408.5" stroke="#222" stroke-width="1.2" />
<line x1="161.8" y1="424.575" x2="163.0" y2="424.575" stroke="#999" stroke-width="0.6" />
<line x1="177.97500000000002" y1="471.6" x2="177.97500000000002" y2="472.8" stroke="#999" stroke-width="0.6" />
<line x1="161.8" y1="440.65" x2="163.0" y2="440.65" stroke="#999" stroke-width="0.6" />
<line x1="194.15" y1="471.6" x2="194.15" y2="472.8" stroke="#999" stroke-width="0.6" />
<line x1="161.8" y1="456.725" x2="163.0" y2="456.725" stroke="#999" stroke-width="0.6" />
<line x1="210.325" y1="471.6" x2="210.325" y2="472.8" stroke="#999" stroke-width="0.6" />
<line x1="187.6" y1="408.5" x2="187.6" y2="472.8" stroke="#111" stroke-width="1.5" />
<line x1="161.8" y1="452.5" x2="224.3" y2="452.5" stroke="#111" stroke-width="1.5" />
<text x="165" y="420" font-size="9.2" text-anchor="start" fill="#000" font-weight="bold" >1.1</text>
<text x="220.2" y="420" font-size="9.2" text-anchor="end" fill="#000" font-weight="bold" >0</text>
<text x="220.2" y="466.6" font-size="9.2" text-anchor="end" fill="#000" font-weight="bold" >0.1</text>
<text transform="translate(21.2,438.6) rotate(-90)" font-size="8.8" text-anchor="middle" fill="#000" font-weight="bold">TNF&#945;</text>
<line x1="33.8" y1="479.9" x2="182" y2="479.9" stroke="#000" stroke-width="1.3" />
<polygon points="180.6,477.2 186.6,479.9 180.6,482.6" fill="#000"/>
<text x="192.6" y="483.8" font-size="9.2" text-anchor="start" fill="#000" font-weight="bold" >IFN<tspan font-size="8.2">&#947;</tspan></text>
</svg>
</body></html>
